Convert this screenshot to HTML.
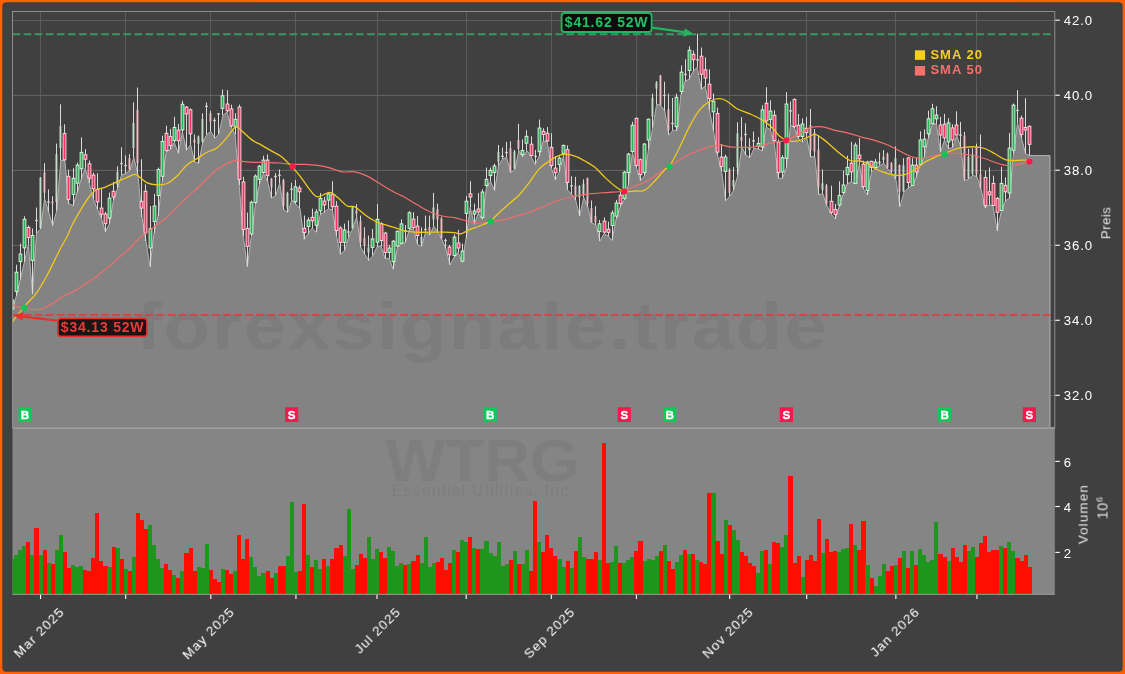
<!DOCTYPE html>
<html><head><meta charset="utf-8"><title>WTRG Chart</title>
<style>html,body{margin:0;padding:0;background:#404040;}body{width:1125px;height:674px;overflow:hidden;font-family:"Liberation Sans", sans-serif;}</style>
</head><body>
<svg width="1125" height="674" viewBox="0 0 1125 674" style="display:block;font-family:&quot;Liberation Sans&quot;,sans-serif">
<defs>
<clipPath id="cp"><rect x="12.5" y="11.5" width="1042.3" height="416.1"/></clipPath>
<clipPath id="cv"><rect x="12.5" y="428.6" width="1042.3" height="165.69999999999993"/></clipPath>
<filter id="f0" x="-20%" y="-20%" width="140%" height="140%"><feOffset dx="0" dy="0"/></filter>
</defs>
<rect x="0" y="0" width="1125" height="674" fill="#ff6006"/>
<rect x="2.3" y="2.3" width="1120.4" height="669.4" rx="4" ry="4" fill="#404040"/>
<g stroke="#5b5b5b" stroke-width="1" shape-rendering="crispEdges">
<line x1="12.5" x2="1054.8" y1="395.5" y2="395.5"/>
<line x1="12.5" x2="1054.8" y1="320.5" y2="320.5"/>
<line x1="12.5" x2="1054.8" y1="245.5" y2="245.5"/>
<line x1="12.5" x2="1054.8" y1="170.5" y2="170.5"/>
<line x1="12.5" x2="1054.8" y1="95.5" y2="95.5"/>
<line x1="12.5" x2="1054.8" y1="20.5" y2="20.5"/>
<line x1="40.5" x2="40.5" y1="11.5" y2="427.6"/>
<line x1="125.5" x2="125.5" y1="11.5" y2="427.6"/>
<line x1="210.5" x2="210.5" y1="11.5" y2="427.6"/>
<line x1="295.5" x2="295.5" y1="11.5" y2="427.6"/>
<line x1="377.5" x2="377.5" y1="11.5" y2="427.6"/>
<line x1="466.5" x2="466.5" y1="11.5" y2="427.6"/>
<line x1="551.5" x2="551.5" y1="11.5" y2="427.6"/>
<line x1="636.5" x2="636.5" y1="11.5" y2="427.6"/>
<line x1="729.5" x2="729.5" y1="11.5" y2="427.6"/>
<line x1="806.5" x2="806.5" y1="11.5" y2="427.6"/>
<line x1="895.5" x2="895.5" y1="11.5" y2="427.6"/>
<line x1="976.5" x2="976.5" y1="11.5" y2="427.6"/>
</g>
<g clip-path="url(#cp)">
<polygon points="12.5,311.0 12.2,311.0 16.3,296.0 20.3,279.5 24.4,262.0 28.4,244.8 32.5,294.0 36.5,233.0 40.6,229.0 44.6,198.5 48.7,212.0 52.7,225.6 56.8,210.6 60.8,160.4 64.9,160.7 68.9,203.7 73.0,205.6 77.1,192.5 81.1,179.4 85.2,168.2 89.2,183.2 93.3,198.8 97.3,209.4 101.4,218.1 105.4,231.8 109.5,223.7 113.5,200.0 117.6,188.2 121.6,175.1 125.7,173.4 129.8,170.7 133.8,157.4 137.9,174.4 141.9,217.0 146.0,241.0 150.0,266.7 154.1,233.0 158.1,216.0 162.2,181.3 166.2,151.5 170.3,149.5 174.3,142.6 178.4,153.2 182.4,132.0 186.5,150.1 190.6,144.5 194.6,161.9 198.7,163.2 202.7,142.6 206.8,134.5 210.8,131.4 214.9,138.2 218.9,133.9 223.0,115.2 227.0,112.1 231.1,127.0 235.1,134.5 239.2,185.0 243.2,236.0 247.3,266.7 251.4,236.2 255.4,204.4 259.5,184.4 263.5,173.4 267.6,181.3 271.6,198.1 275.7,195.6 279.7,183.2 283.8,209.7 287.8,212.3 291.9,199.9 295.9,204.2 300.0,208.6 304.1,239.3 308.1,233.7 312.2,228.0 316.2,232.2 320.3,214.4 324.3,212.3 328.4,208.7 332.4,210.0 336.5,236.2 340.5,254.3 344.6,250.5 348.6,237.4 352.7,228.7 356.7,216.8 360.8,247.4 364.9,254.3 368.9,260.5 373.0,255.5 377.0,246.8 381.1,246.1 385.1,258.6 389.2,258.6 393.2,269.2 397.3,247.4 401.3,243.7 405.4,242.4 409.4,229.5 413.5,229.2 417.5,244.3 421.6,246.1 425.7,231.8 429.7,234.9 433.8,226.2 437.8,231.8 441.9,239.3 445.9,248.6 450.0,264.8 454.0,257.3 458.1,252.3 462.1,262.1 466.2,238.0 470.2,207.5 474.3,224.3 478.4,213.1 482.4,219.3 486.5,186.8 490.5,181.2 494.6,190.6 498.6,165.6 502.7,158.8 506.7,157.5 510.8,172.5 514.8,169.4 518.9,150.7 522.9,156.9 527.0,150.7 531.0,156.3 535.1,164.4 539.2,156.3 543.2,140.7 547.3,141.9 551.3,168.1 555.4,180.0 559.4,171.9 563.5,156.0 567.5,189.9 571.6,194.3 575.6,199.9 579.7,216.1 583.7,197.4 587.8,206.8 591.9,223.0 595.9,224.8 600.0,241.0 604.0,233.6 608.1,236.0 612.1,240.4 616.2,218.6 620.2,206.8 624.3,199.9 628.3,184.9 632.4,152.8 636.4,167.5 640.5,180.6 644.5,175.6 648.6,149.1 652.7,127.9 656.7,104.2 660.8,105.5 664.8,111.1 668.9,134.8 672.9,130.4 677.0,130.4 681.0,94.0 685.1,81.1 689.1,79.3 693.2,71.1 697.2,67.4 701.3,89.2 705.3,86.1 709.4,110.0 713.5,131.0 717.5,155.2 721.6,171.4 725.6,200.7 729.7,196.3 733.7,190.1 737.8,175.1 741.8,147.1 745.9,155.2 749.9,157.7 754.0,148.3 758.0,149.0 762.1,150.8 766.2,127.1 770.2,129.6 774.3,143.0 778.3,178.3 782.4,178.3 786.4,167.7 790.5,124.6 794.5,128.3 798.6,138.9 802.6,142.1 806.7,138.0 810.7,157.1 814.8,156.4 818.8,194.5 822.9,193.9 827.0,205.7 831.0,213.8 835.1,219.0 839.1,206.8 843.2,194.4 847.2,183.8 851.3,181.9 855.3,183.8 859.4,163.8 863.4,188.8 867.5,195.0 871.5,171.9 875.6,168.8 879.6,165.7 883.7,163.2 887.8,168.8 891.8,173.2 895.9,179.4 899.9,206.8 904.0,191.9 908.0,188.1 912.1,185.6 916.1,177.5 920.2,165.3 924.2,156.9 928.3,138.1 932.3,124.3 936.4,123.8 940.5,152.2 944.5,140.0 948.6,148.7 952.6,147.5 956.7,135.4 960.7,146.9 964.8,180.7 968.8,178.8 972.9,175.0 976.9,176.8 981.0,188.7 985.0,208.0 989.1,204.9 993.1,206.1 997.2,231.0 1001.3,211.1 1005.3,201.1 1009.4,198.0 1013.4,154.3 1017.5,123.1 1021.5,138.1 1025.6,153.7 1029.6,155.6 1050.0,155.6 1050,427.6 12.5,427.6" fill="#838383"/>
<polyline points="12.5,311.0 12.2,311.0 16.3,296.0 20.3,279.5 24.4,262.0 28.4,244.8 32.5,294.0 36.5,233.0 40.6,229.0 44.6,198.5 48.7,212.0 52.7,225.6 56.8,210.6 60.8,160.4 64.9,160.7 68.9,203.7 73.0,205.6 77.1,192.5 81.1,179.4 85.2,168.2 89.2,183.2 93.3,198.8 97.3,209.4 101.4,218.1 105.4,231.8 109.5,223.7 113.5,200.0 117.6,188.2 121.6,175.1 125.7,173.4 129.8,170.7 133.8,157.4 137.9,174.4 141.9,217.0 146.0,241.0 150.0,266.7 154.1,233.0 158.1,216.0 162.2,181.3 166.2,151.5 170.3,149.5 174.3,142.6 178.4,153.2 182.4,132.0 186.5,150.1 190.6,144.5 194.6,161.9 198.7,163.2 202.7,142.6 206.8,134.5 210.8,131.4 214.9,138.2 218.9,133.9 223.0,115.2 227.0,112.1 231.1,127.0 235.1,134.5 239.2,185.0 243.2,236.0 247.3,266.7 251.4,236.2 255.4,204.4 259.5,184.4 263.5,173.4 267.6,181.3 271.6,198.1 275.7,195.6 279.7,183.2 283.8,209.7 287.8,212.3 291.9,199.9 295.9,204.2 300.0,208.6 304.1,239.3 308.1,233.7 312.2,228.0 316.2,232.2 320.3,214.4 324.3,212.3 328.4,208.7 332.4,210.0 336.5,236.2 340.5,254.3 344.6,250.5 348.6,237.4 352.7,228.7 356.7,216.8 360.8,247.4 364.9,254.3 368.9,260.5 373.0,255.5 377.0,246.8 381.1,246.1 385.1,258.6 389.2,258.6 393.2,269.2 397.3,247.4 401.3,243.7 405.4,242.4 409.4,229.5 413.5,229.2 417.5,244.3 421.6,246.1 425.7,231.8 429.7,234.9 433.8,226.2 437.8,231.8 441.9,239.3 445.9,248.6 450.0,264.8 454.0,257.3 458.1,252.3 462.1,262.1 466.2,238.0 470.2,207.5 474.3,224.3 478.4,213.1 482.4,219.3 486.5,186.8 490.5,181.2 494.6,190.6 498.6,165.6 502.7,158.8 506.7,157.5 510.8,172.5 514.8,169.4 518.9,150.7 522.9,156.9 527.0,150.7 531.0,156.3 535.1,164.4 539.2,156.3 543.2,140.7 547.3,141.9 551.3,168.1 555.4,180.0 559.4,171.9 563.5,156.0 567.5,189.9 571.6,194.3 575.6,199.9 579.7,216.1 583.7,197.4 587.8,206.8 591.9,223.0 595.9,224.8 600.0,241.0 604.0,233.6 608.1,236.0 612.1,240.4 616.2,218.6 620.2,206.8 624.3,199.9 628.3,184.9 632.4,152.8 636.4,167.5 640.5,180.6 644.5,175.6 648.6,149.1 652.7,127.9 656.7,104.2 660.8,105.5 664.8,111.1 668.9,134.8 672.9,130.4 677.0,130.4 681.0,94.0 685.1,81.1 689.1,79.3 693.2,71.1 697.2,67.4 701.3,89.2 705.3,86.1 709.4,110.0 713.5,131.0 717.5,155.2 721.6,171.4 725.6,200.7 729.7,196.3 733.7,190.1 737.8,175.1 741.8,147.1 745.9,155.2 749.9,157.7 754.0,148.3 758.0,149.0 762.1,150.8 766.2,127.1 770.2,129.6 774.3,143.0 778.3,178.3 782.4,178.3 786.4,167.7 790.5,124.6 794.5,128.3 798.6,138.9 802.6,142.1 806.7,138.0 810.7,157.1 814.8,156.4 818.8,194.5 822.9,193.9 827.0,205.7 831.0,213.8 835.1,219.0 839.1,206.8 843.2,194.4 847.2,183.8 851.3,181.9 855.3,183.8 859.4,163.8 863.4,188.8 867.5,195.0 871.5,171.9 875.6,168.8 879.6,165.7 883.7,163.2 887.8,168.8 891.8,173.2 895.9,179.4 899.9,206.8 904.0,191.9 908.0,188.1 912.1,185.6 916.1,177.5 920.2,165.3 924.2,156.9 928.3,138.1 932.3,124.3 936.4,123.8 940.5,152.2 944.5,140.0 948.6,148.7 952.6,147.5 956.7,135.4 960.7,146.9 964.8,180.7 968.8,178.8 972.9,175.0 976.9,176.8 981.0,188.7 985.0,208.0 989.1,204.9 993.1,206.1 997.2,231.0 1001.3,211.1 1005.3,201.1 1009.4,198.0 1013.4,154.3 1017.5,123.1 1021.5,138.1 1025.6,153.7 1029.6,155.6 1050.0,155.6 1050,427.6" fill="none" stroke="#b4b4b4" stroke-width="1" stroke-linejoin="round"/>
<g stroke="#8e8e8e" stroke-width="1" opacity="0.18">
<line x1="12.5" x2="1050" y1="395.30" y2="395.30"/>
<line x1="12.5" x2="1050" y1="320.28" y2="320.28"/>
<line x1="12.5" x2="1050" y1="245.26" y2="245.26"/>
<line x1="12.5" x2="1050" y1="170.24" y2="170.24"/>
<line x1="12.5" x2="1050" y1="95.22" y2="95.22"/>
</g>
</g>
<text filter="url(#f0)" transform="translate(482.5,349.4) scale(1.13,1)" x="0" y="0" text-anchor="middle" font-size="67" font-weight="bold" letter-spacing="2" fill="#777777" fill-opacity="0.62">forexsignale.trade</text>
<g clip-path="url(#cp)">
<g stroke="#dadada" stroke-width="1"><line x1="12.50" x2="12.50" y1="293.0" y2="311.0"/><line x1="16.50" x2="16.50" y1="264.7" y2="296.0"/><line x1="20.50" x2="20.50" y1="243.5" y2="279.5"/><line x1="24.50" x2="24.50" y1="216.2" y2="262.0"/><line x1="28.50" x2="28.50" y1="225.5" y2="244.8"/><line x1="32.50" x2="32.50" y1="228.6" y2="294.0"/><line x1="36.50" x2="36.50" y1="207.5" y2="233.0"/><line x1="40.50" x2="40.50" y1="177.0" y2="229.0"/><line x1="44.50" x2="44.50" y1="163.2" y2="198.5"/><line x1="48.50" x2="48.50" y1="189.4" y2="212.0"/><line x1="52.50" x2="52.50" y1="196.3" y2="225.6"/><line x1="56.50" x2="56.50" y1="143.6" y2="210.6"/><line x1="60.50" x2="60.50" y1="104.3" y2="160.4"/><line x1="64.50" x2="64.50" y1="124.3" y2="160.7"/><line x1="68.50" x2="68.50" y1="169.5" y2="203.7"/><line x1="73.50" x2="73.50" y1="168.2" y2="205.6"/><line x1="77.50" x2="77.50" y1="162.6" y2="192.5"/><line x1="81.50" x2="81.50" y1="137.4" y2="179.4"/><line x1="85.50" x2="85.50" y1="149.2" y2="168.2"/><line x1="89.50" x2="89.50" y1="160.4" y2="183.2"/><line x1="93.50" x2="93.50" y1="172.6" y2="198.8"/><line x1="97.50" x2="97.50" y1="173.2" y2="209.4"/><line x1="101.50" x2="101.50" y1="188.8" y2="218.1"/><line x1="105.50" x2="105.50" y1="211.9" y2="231.8"/><line x1="109.50" x2="109.50" y1="192.5" y2="223.7"/><line x1="113.50" x2="113.50" y1="181.9" y2="200.0"/><line x1="117.50" x2="117.50" y1="166.3" y2="188.2"/><line x1="121.50" x2="121.50" y1="147.3" y2="175.1"/><line x1="125.50" x2="125.50" y1="155.4" y2="173.4"/><line x1="129.50" x2="129.50" y1="154.2" y2="170.7"/><line x1="133.50" x2="133.50" y1="102.4" y2="157.4"/><line x1="137.50" x2="137.50" y1="87.5" y2="174.4"/><line x1="141.50" x2="141.50" y1="159.2" y2="217.0"/><line x1="145.50" x2="145.50" y1="184.4" y2="241.0"/><line x1="150.50" x2="150.50" y1="206.0" y2="266.7"/><line x1="154.50" x2="154.50" y1="193.8" y2="233.0"/><line x1="158.50" x2="158.50" y1="167.6" y2="216.0"/><line x1="162.50" x2="162.50" y1="135.7" y2="181.3"/><line x1="166.50" x2="166.50" y1="125.8" y2="151.5"/><line x1="170.50" x2="170.50" y1="128.9" y2="149.5"/><line x1="174.50" x2="174.50" y1="116.7" y2="142.6"/><line x1="178.50" x2="178.50" y1="123.9" y2="153.2"/><line x1="182.50" x2="182.50" y1="100.8" y2="132.0"/><line x1="186.50" x2="186.50" y1="106.0" y2="150.1"/><line x1="190.50" x2="190.50" y1="108.3" y2="144.5"/><line x1="194.50" x2="194.50" y1="134.5" y2="161.9"/><line x1="198.50" x2="198.50" y1="135.5" y2="163.2"/><line x1="202.50" x2="202.50" y1="113.3" y2="142.6"/><line x1="206.50" x2="206.50" y1="102.5" y2="134.5"/><line x1="210.50" x2="210.50" y1="110.8" y2="131.4"/><line x1="214.50" x2="214.50" y1="117.7" y2="138.2"/><line x1="218.50" x2="218.50" y1="113.0" y2="133.9"/><line x1="222.50" x2="222.50" y1="89.6" y2="115.2"/><line x1="227.50" x2="227.50" y1="90.2" y2="112.1"/><line x1="231.50" x2="231.50" y1="104.6" y2="127.0"/><line x1="235.50" x2="235.50" y1="113.3" y2="134.5"/><line x1="239.50" x2="239.50" y1="104.6" y2="185.0"/><line x1="243.50" x2="243.50" y1="176.9" y2="236.0"/><line x1="247.50" x2="247.50" y1="212.5" y2="266.7"/><line x1="251.50" x2="251.50" y1="200.6" y2="236.2"/><line x1="255.50" x2="255.50" y1="174.4" y2="204.4"/><line x1="259.50" x2="259.50" y1="165.0" y2="184.4"/><line x1="263.50" x2="263.50" y1="155.7" y2="173.4"/><line x1="267.50" x2="267.50" y1="154.5" y2="181.3"/><line x1="271.50" x2="271.50" y1="178.0" y2="198.1"/><line x1="275.50" x2="275.50" y1="173.2" y2="195.6"/><line x1="279.50" x2="279.50" y1="169.5" y2="183.2"/><line x1="283.50" x2="283.50" y1="178.8" y2="209.7"/><line x1="287.50" x2="287.50" y1="191.8" y2="212.3"/><line x1="291.50" x2="291.50" y1="182.7" y2="199.9"/><line x1="295.50" x2="295.50" y1="179.9" y2="204.2"/><line x1="299.50" x2="299.50" y1="185.5" y2="208.6"/><line x1="304.50" x2="304.50" y1="215.5" y2="239.3"/><line x1="308.50" x2="308.50" y1="217.3" y2="233.7"/><line x1="312.50" x2="312.50" y1="208.6" y2="228.0"/><line x1="316.50" x2="316.50" y1="209.2" y2="232.2"/><line x1="320.50" x2="320.50" y1="193.0" y2="214.4"/><line x1="324.50" x2="324.50" y1="196.8" y2="212.3"/><line x1="328.50" x2="328.50" y1="192.4" y2="208.7"/><line x1="332.50" x2="332.50" y1="181.2" y2="210.0"/><line x1="336.50" x2="336.50" y1="201.1" y2="236.2"/><line x1="340.50" x2="340.50" y1="226.2" y2="254.3"/><line x1="344.50" x2="344.50" y1="223.6" y2="250.5"/><line x1="348.50" x2="348.50" y1="220.5" y2="237.4"/><line x1="352.50" x2="352.50" y1="206.0" y2="228.7"/><line x1="356.50" x2="356.50" y1="204.2" y2="216.8"/><line x1="360.50" x2="360.50" y1="215.5" y2="247.4"/><line x1="364.50" x2="364.50" y1="227.3" y2="254.3"/><line x1="368.50" x2="368.50" y1="235.5" y2="260.5"/><line x1="372.50" x2="372.50" y1="229.0" y2="255.5"/><line x1="377.50" x2="377.50" y1="204.2" y2="246.8"/><line x1="381.50" x2="381.50" y1="222.3" y2="246.1"/><line x1="385.50" x2="385.50" y1="231.8" y2="258.6"/><line x1="389.50" x2="389.50" y1="244.9" y2="258.6"/><line x1="393.50" x2="393.50" y1="240.0" y2="269.2"/><line x1="397.50" x2="397.50" y1="230.5" y2="247.4"/><line x1="401.50" x2="401.50" y1="219.3" y2="243.7"/><line x1="405.50" x2="405.50" y1="225.0" y2="242.4"/><line x1="409.50" x2="409.50" y1="211.1" y2="229.5"/><line x1="413.50" x2="413.50" y1="212.3" y2="229.2"/><line x1="417.50" x2="417.50" y1="216.1" y2="244.3"/><line x1="421.50" x2="421.50" y1="227.3" y2="246.1"/><line x1="425.50" x2="425.50" y1="215.6" y2="231.8"/><line x1="429.50" x2="429.50" y1="215.6" y2="234.9"/><line x1="433.50" x2="433.50" y1="193.0" y2="226.2"/><line x1="437.50" x2="437.50" y1="203.7" y2="231.8"/><line x1="441.50" x2="441.50" y1="216.8" y2="239.3"/><line x1="445.50" x2="445.50" y1="238.6" y2="248.6"/><line x1="449.50" x2="449.50" y1="244.9" y2="264.8"/><line x1="454.50" x2="454.50" y1="234.3" y2="257.3"/><line x1="458.50" x2="458.50" y1="229.9" y2="252.3"/><line x1="462.50" x2="462.50" y1="243.6" y2="262.1"/><line x1="466.50" x2="466.50" y1="196.2" y2="238.0"/><line x1="470.50" x2="470.50" y1="181.2" y2="207.5"/><line x1="474.50" x2="474.50" y1="203.7" y2="224.3"/><line x1="478.50" x2="478.50" y1="193.0" y2="213.1"/><line x1="482.50" x2="482.50" y1="189.3" y2="219.3"/><line x1="486.50" x2="486.50" y1="167.5" y2="186.8"/><line x1="490.50" x2="490.50" y1="167.5" y2="181.2"/><line x1="494.50" x2="494.50" y1="163.7" y2="190.6"/><line x1="498.50" x2="498.50" y1="145.0" y2="165.6"/><line x1="502.50" x2="502.50" y1="147.5" y2="158.8"/><line x1="506.50" x2="506.50" y1="141.9" y2="157.5"/><line x1="510.50" x2="510.50" y1="141.3" y2="172.5"/><line x1="514.50" x2="514.50" y1="150.0" y2="169.4"/><line x1="518.50" x2="518.50" y1="123.8" y2="150.7"/><line x1="522.50" x2="522.50" y1="139.4" y2="156.9"/><line x1="526.50" x2="526.50" y1="130.1" y2="150.7"/><line x1="531.50" x2="531.50" y1="136.3" y2="156.3"/><line x1="535.50" x2="535.50" y1="150.0" y2="164.4"/><line x1="539.50" x2="539.50" y1="119.5" y2="156.3"/><line x1="543.50" x2="543.50" y1="128.2" y2="140.7"/><line x1="547.50" x2="547.50" y1="127.0" y2="141.9"/><line x1="551.50" x2="551.50" y1="133.2" y2="168.1"/><line x1="555.50" x2="555.50" y1="156.3" y2="180.0"/><line x1="559.50" x2="559.50" y1="156.3" y2="171.9"/><line x1="563.50" x2="563.50" y1="144.5" y2="156.0"/><line x1="567.50" x2="567.50" y1="145.4" y2="189.9"/><line x1="571.50" x2="571.50" y1="176.2" y2="194.3"/><line x1="575.50" x2="575.50" y1="176.8" y2="199.9"/><line x1="579.50" x2="579.50" y1="185.0" y2="216.1"/><line x1="583.50" x2="583.50" y1="179.3" y2="197.4"/><line x1="587.50" x2="587.50" y1="177.5" y2="206.8"/><line x1="591.50" x2="591.50" y1="200.5" y2="223.0"/><line x1="595.50" x2="595.50" y1="206.1" y2="224.8"/><line x1="599.50" x2="599.50" y1="219.9" y2="241.0"/><line x1="604.50" x2="604.50" y1="217.4" y2="233.6"/><line x1="608.50" x2="608.50" y1="221.7" y2="236.0"/><line x1="612.50" x2="612.50" y1="210.5" y2="240.4"/><line x1="616.50" x2="616.50" y1="199.9" y2="218.6"/><line x1="620.50" x2="620.50" y1="191.8" y2="206.8"/><line x1="624.50" x2="624.50" y1="171.0" y2="199.9"/><line x1="628.50" x2="628.50" y1="152.8" y2="184.9"/><line x1="632.50" x2="632.50" y1="121.7" y2="152.8"/><line x1="636.50" x2="636.50" y1="117.5" y2="167.5"/><line x1="640.50" x2="640.50" y1="158.5" y2="180.6"/><line x1="644.50" x2="644.50" y1="143.0" y2="175.6"/><line x1="648.50" x2="648.50" y1="118.5" y2="149.1"/><line x1="652.50" x2="652.50" y1="93.6" y2="127.9"/><line x1="656.50" x2="656.50" y1="81.1" y2="104.2"/><line x1="660.50" x2="660.50" y1="74.9" y2="105.5"/><line x1="664.50" x2="664.50" y1="81.7" y2="111.1"/><line x1="668.50" x2="668.50" y1="93.6" y2="134.8"/><line x1="672.50" x2="672.50" y1="98.0" y2="130.4"/><line x1="676.50" x2="676.50" y1="93.6" y2="130.4"/><line x1="681.50" x2="681.50" y1="65.5" y2="94.0"/><line x1="685.50" x2="685.50" y1="59.3" y2="81.1"/><line x1="689.50" x2="689.50" y1="46.2" y2="79.3"/><line x1="693.50" x2="693.50" y1="50.6" y2="71.1"/><line x1="697.50" x2="697.50" y1="33.7" y2="67.4"/><line x1="701.50" x2="701.50" y1="47.5" y2="89.2"/><line x1="705.50" x2="705.50" y1="57.4" y2="86.1"/><line x1="709.50" x2="709.50" y1="69.3" y2="110.0"/><line x1="713.50" x2="713.50" y1="93.5" y2="131.0"/><line x1="717.50" x2="717.50" y1="107.5" y2="155.2"/><line x1="721.50" x2="721.50" y1="143.9" y2="171.4"/><line x1="725.50" x2="725.50" y1="154.6" y2="200.7"/><line x1="729.50" x2="729.50" y1="168.0" y2="196.3"/><line x1="733.50" x2="733.50" y1="167.0" y2="190.1"/><line x1="737.50" x2="737.50" y1="122.1" y2="175.1"/><line x1="741.50" x2="741.50" y1="117.1" y2="147.1"/><line x1="745.50" x2="745.50" y1="123.4" y2="155.2"/><line x1="749.50" x2="749.50" y1="138.3" y2="157.7"/><line x1="753.50" x2="753.50" y1="131.5" y2="148.3"/><line x1="758.50" x2="758.50" y1="137.1" y2="149.0"/><line x1="762.50" x2="762.50" y1="105.3" y2="150.8"/><line x1="766.50" x2="766.50" y1="87.2" y2="127.1"/><line x1="770.50" x2="770.50" y1="100.3" y2="129.6"/><line x1="774.50" x2="774.50" y1="110.3" y2="143.0"/><line x1="778.50" x2="778.50" y1="139.5" y2="178.3"/><line x1="782.50" x2="782.50" y1="155.2" y2="178.3"/><line x1="786.50" x2="786.50" y1="92.2" y2="167.7"/><line x1="790.50" x2="790.50" y1="101.5" y2="124.6"/><line x1="794.50" x2="794.50" y1="98.4" y2="128.3"/><line x1="798.50" x2="798.50" y1="114.0" y2="138.9"/><line x1="802.50" x2="802.50" y1="118.4" y2="142.1"/><line x1="806.50" x2="806.50" y1="117.1" y2="138.0"/><line x1="810.50" x2="810.50" y1="109.0" y2="157.1"/><line x1="814.50" x2="814.50" y1="129.0" y2="156.4"/><line x1="818.50" x2="818.50" y1="135.2" y2="194.5"/><line x1="822.50" x2="822.50" y1="169.5" y2="193.9"/><line x1="826.50" x2="826.50" y1="183.9" y2="205.7"/><line x1="831.50" x2="831.50" y1="185.7" y2="213.8"/><line x1="835.50" x2="835.50" y1="203.8" y2="219.0"/><line x1="839.50" x2="839.50" y1="181.3" y2="206.8"/><line x1="843.50" x2="843.50" y1="170.7" y2="194.4"/><line x1="847.50" x2="847.50" y1="155.7" y2="183.8"/><line x1="851.50" x2="851.50" y1="141.9" y2="181.9"/><line x1="855.50" x2="855.50" y1="142.5" y2="183.8"/><line x1="859.50" x2="859.50" y1="138.1" y2="163.8"/><line x1="863.50" x2="863.50" y1="160.7" y2="188.8"/><line x1="867.50" x2="867.50" y1="160.7" y2="195.0"/><line x1="871.50" x2="871.50" y1="160.7" y2="171.9"/><line x1="875.50" x2="875.50" y1="158.8" y2="168.8"/><line x1="879.50" x2="879.50" y1="152.6" y2="165.7"/><line x1="883.50" x2="883.50" y1="150.1" y2="163.2"/><line x1="887.50" x2="887.50" y1="152.6" y2="168.8"/><line x1="891.50" x2="891.50" y1="162.0" y2="173.2"/><line x1="895.50" x2="895.50" y1="146.4" y2="179.4"/><line x1="899.50" x2="899.50" y1="164.4" y2="206.8"/><line x1="903.50" x2="903.50" y1="158.2" y2="191.9"/><line x1="908.50" x2="908.50" y1="157.0" y2="188.1"/><line x1="912.50" x2="912.50" y1="158.2" y2="185.6"/><line x1="916.50" x2="916.50" y1="157.6" y2="177.5"/><line x1="920.50" x2="920.50" y1="131.3" y2="165.3"/><line x1="924.50" x2="924.50" y1="129.4" y2="156.9"/><line x1="928.50" x2="928.50" y1="110.7" y2="138.1"/><line x1="932.50" x2="932.50" y1="103.8" y2="124.3"/><line x1="936.50" x2="936.50" y1="106.3" y2="123.8"/><line x1="940.50" x2="940.50" y1="116.9" y2="152.2"/><line x1="944.50" x2="944.50" y1="113.8" y2="140.0"/><line x1="948.50" x2="948.50" y1="118.2" y2="148.7"/><line x1="952.50" x2="952.50" y1="124.4" y2="147.5"/><line x1="956.50" x2="956.50" y1="111.3" y2="135.4"/><line x1="960.50" x2="960.50" y1="121.9" y2="146.9"/><line x1="964.50" x2="964.50" y1="131.9" y2="180.7"/><line x1="968.50" x2="968.50" y1="148.7" y2="178.8"/><line x1="972.50" x2="972.50" y1="148.1" y2="175.0"/><line x1="976.50" x2="976.50" y1="143.7" y2="176.8"/><line x1="980.50" x2="980.50" y1="134.4" y2="188.7"/><line x1="985.50" x2="985.50" y1="170.6" y2="208.0"/><line x1="989.50" x2="989.50" y1="167.5" y2="204.9"/><line x1="993.50" x2="993.50" y1="175.6" y2="206.1"/><line x1="997.50" x2="997.50" y1="197.0" y2="231.0"/><line x1="1001.50" x2="1001.50" y1="166.8" y2="211.1"/><line x1="1005.50" x2="1005.50" y1="177.4" y2="201.1"/><line x1="1009.50" x2="1009.50" y1="133.1" y2="198.0"/><line x1="1013.50" x2="1013.50" y1="103.5" y2="154.3"/><line x1="1017.50" x2="1017.50" y1="90.1" y2="123.1"/><line x1="1021.50" x2="1021.50" y1="115.7" y2="138.1"/><line x1="1025.50" x2="1025.50" y1="98.2" y2="153.7"/><line x1="1029.50" x2="1029.50" y1="125.5" y2="155.6"/></g>
<rect x="11.10" y="300.0" width="2.8" height="9.0" fill="#2bb257" stroke="#dff7e2" stroke-width="0.9"/><rect x="15.10" y="272.2" width="2.8" height="19.3" fill="#2bb257" stroke="#dff7e2" stroke-width="0.9"/><rect x="19.10" y="254.0" width="2.8" height="7.6" fill="#2bb257" stroke="#dff7e2" stroke-width="0.9"/><rect x="23.10" y="219.3" width="2.8" height="28.6" fill="#2bb257" stroke="#dff7e2" stroke-width="0.9"/><rect x="27.10" y="227.4" width="2.8" height="10.0" fill="#fa2f62" stroke="#ffe0e5" stroke-width="0.9"/><rect x="31.10" y="235.5" width="2.8" height="24.9" fill="#2bb257" stroke="#dff7e2" stroke-width="0.9"/><rect x="35.20" y="219.8" width="2.6" height="1.4" fill="#d6d6d6"/><rect x="39.50" y="177.6" width="1.9" height="50.4" fill="#c2dcc8"/><rect x="43.50" y="172.6" width="1.9" height="19.9" fill="#efbcc6"/><rect x="47.20" y="201.3" width="2.6" height="1.4" fill="#d6d6d6"/><rect x="51.50" y="201.5" width="1.9" height="2.0" fill="#efbcc6"/><rect x="55.50" y="154.2" width="1.9" height="47.7" fill="#c2dcc8"/><rect x="59.50" y="126.1" width="1.9" height="21.9" fill="#c2dcc8"/><rect x="63.10" y="133.6" width="2.8" height="26.2" fill="#fa2f62" stroke="#ffe0e5" stroke-width="0.9"/><rect x="67.10" y="176.3" width="2.8" height="23.1" fill="#fa2f62" stroke="#ffe0e5" stroke-width="0.9"/><rect x="72.10" y="178.2" width="2.8" height="16.2" fill="#2bb257" stroke="#dff7e2" stroke-width="0.9"/><rect x="76.10" y="165.1" width="2.8" height="18.1" fill="#2bb257" stroke="#dff7e2" stroke-width="0.9"/><rect x="80.10" y="152.3" width="2.8" height="16.5" fill="#2bb257" stroke="#dff7e2" stroke-width="0.9"/><rect x="84.10" y="154.8" width="2.8" height="4.4" fill="#fa2f62" stroke="#ffe0e5" stroke-width="0.9"/><rect x="88.10" y="163.8" width="2.8" height="14.4" fill="#fa2f62" stroke="#ffe0e5" stroke-width="0.9"/><rect x="92.10" y="175.1" width="2.8" height="13.7" fill="#fa2f62" stroke="#ffe0e5" stroke-width="0.9"/><rect x="96.10" y="189.4" width="2.8" height="12.5" fill="#fa2f62" stroke="#ffe0e5" stroke-width="0.9"/><rect x="100.10" y="208.1" width="2.8" height="6.2" fill="#fa2f62" stroke="#ffe0e5" stroke-width="0.9"/><rect x="104.10" y="214.0" width="2.8" height="9.7" fill="#fa2f62" stroke="#ffe0e5" stroke-width="0.9"/><rect x="108.10" y="198.1" width="2.8" height="20.0" fill="#2bb257" stroke="#dff7e2" stroke-width="0.9"/><rect x="112.10" y="191.3" width="2.8" height="5.6" fill="#fa2f62" stroke="#ffe0e5" stroke-width="0.9"/><rect x="116.50" y="172.0" width="1.9" height="12.4" fill="#c2dcc8"/><rect x="120.20" y="162.8" width="2.6" height="1.4" fill="#d6d6d6"/><rect x="124.20" y="164.8" width="2.6" height="1.4" fill="#d6d6d6"/><rect x="128.50" y="158.2" width="1.9" height="11.3" fill="#efbcc6"/><rect x="132.50" y="123.0" width="1.9" height="25.0" fill="#c2dcc8"/><rect x="136.50" y="109.9" width="1.9" height="53.3" fill="#efbcc6"/><rect x="140.10" y="201.3" width="2.8" height="6.8" fill="#fa2f62" stroke="#ffe0e5" stroke-width="0.9"/><rect x="144.10" y="191.3" width="2.8" height="41.7" fill="#fa2f62" stroke="#ffe0e5" stroke-width="0.9"/><rect x="149.10" y="228.7" width="2.8" height="19.3" fill="#2bb257" stroke="#dff7e2" stroke-width="0.9"/><rect x="153.10" y="206.0" width="2.8" height="15.5" fill="#2bb257" stroke="#dff7e2" stroke-width="0.9"/><rect x="157.10" y="169.5" width="2.8" height="26.1" fill="#2bb257" stroke="#dff7e2" stroke-width="0.9"/><rect x="161.10" y="141.4" width="2.8" height="34.9" fill="#2bb257" stroke="#dff7e2" stroke-width="0.9"/><rect x="165.10" y="133.3" width="2.8" height="17.4" fill="#fa2f62" stroke="#ffe0e5" stroke-width="0.9"/><rect x="169.10" y="136.4" width="2.8" height="9.3" fill="#fa2f62" stroke="#ffe0e5" stroke-width="0.9"/><rect x="173.10" y="127.4" width="2.8" height="13.3" fill="#2bb257" stroke="#dff7e2" stroke-width="0.9"/><rect x="177.10" y="130.1" width="2.8" height="10.6" fill="#fa2f62" stroke="#ffe0e5" stroke-width="0.9"/><rect x="181.10" y="104.2" width="2.8" height="25.7" fill="#2bb257" stroke="#dff7e2" stroke-width="0.9"/><rect x="185.10" y="107.1" width="2.8" height="6.8" fill="#fa2f62" stroke="#ffe0e5" stroke-width="0.9"/><rect x="189.10" y="109.8" width="2.8" height="24.1" fill="#fa2f62" stroke="#ffe0e5" stroke-width="0.9"/><rect x="193.50" y="139.5" width="1.9" height="3.1" fill="#efbcc6"/><rect x="197.50" y="136.4" width="1.9" height="7.5" fill="#c2dcc8"/><rect x="201.50" y="118.9" width="1.9" height="23.1" fill="#c2dcc8"/><rect x="205.20" y="105.6" width="2.6" height="1.4" fill="#d6d6d6"/><rect x="209.50" y="113.3" width="1.9" height="8.1" fill="#efbcc6"/><rect x="213.20" y="119.8" width="2.6" height="1.4" fill="#d6d6d6"/><rect x="217.20" y="113.2" width="2.6" height="1.4" fill="#d6d6d6"/><rect x="221.10" y="95.8" width="2.8" height="12.5" fill="#2bb257" stroke="#dff7e2" stroke-width="0.9"/><rect x="226.10" y="104.0" width="2.8" height="6.8" fill="#fa2f62" stroke="#ffe0e5" stroke-width="0.9"/><rect x="230.10" y="108.9" width="2.8" height="16.9" fill="#fa2f62" stroke="#ffe0e5" stroke-width="0.9"/><rect x="234.10" y="119.3" width="2.8" height="7.7" fill="#2bb257" stroke="#dff7e2" stroke-width="0.9"/><rect x="238.10" y="107.1" width="2.8" height="72.3" fill="#fa2f62" stroke="#ffe0e5" stroke-width="0.9"/><rect x="242.10" y="181.9" width="2.8" height="47.6" fill="#fa2f62" stroke="#ffe0e5" stroke-width="0.9"/><rect x="246.10" y="228.4" width="2.8" height="18.0" fill="#fa2f62" stroke="#ffe0e5" stroke-width="0.9"/><rect x="250.10" y="202.2" width="2.8" height="31.7" fill="#2bb257" stroke="#dff7e2" stroke-width="0.9"/><rect x="254.10" y="176.1" width="2.8" height="26.4" fill="#2bb257" stroke="#dff7e2" stroke-width="0.9"/><rect x="258.10" y="166.1" width="2.8" height="13.3" fill="#2bb257" stroke="#dff7e2" stroke-width="0.9"/><rect x="262.10" y="160.1" width="2.8" height="12.5" fill="#2bb257" stroke="#dff7e2" stroke-width="0.9"/><rect x="266.10" y="160.1" width="2.8" height="15.6" fill="#fa2f62" stroke="#ffe0e5" stroke-width="0.9"/><rect x="270.50" y="178.8" width="1.9" height="8.7" fill="#efbcc6"/><rect x="274.20" y="175.8" width="2.6" height="1.4" fill="#d6d6d6"/><rect x="278.20" y="174.6" width="2.6" height="1.4" fill="#d6d6d6"/><rect x="282.50" y="180.0" width="1.9" height="26.0" fill="#efbcc6"/><rect x="286.50" y="193.0" width="1.9" height="15.6" fill="#c2dcc8"/><rect x="290.20" y="188.6" width="2.6" height="1.4" fill="#d6d6d6"/><rect x="294.10" y="186.8" width="2.8" height="14.9" fill="#2bb257" stroke="#dff7e2" stroke-width="0.9"/><rect x="298.10" y="188.0" width="2.8" height="3.8" fill="#fa2f62" stroke="#ffe0e5" stroke-width="0.9"/><rect x="303.10" y="228.3" width="2.8" height="4.3" fill="#fa2f62" stroke="#ffe0e5" stroke-width="0.9"/><rect x="307.10" y="220.1" width="2.8" height="6.4" fill="#2bb257" stroke="#dff7e2" stroke-width="0.9"/><rect x="311.10" y="217.3" width="2.8" height="3.5" fill="#fa2f62" stroke="#ffe0e5" stroke-width="0.9"/><rect x="315.10" y="212.0" width="2.8" height="13.2" fill="#2bb257" stroke="#dff7e2" stroke-width="0.9"/><rect x="319.10" y="198.4" width="2.8" height="12.4" fill="#2bb257" stroke="#dff7e2" stroke-width="0.9"/><rect x="323.10" y="201.1" width="2.8" height="3.8" fill="#fa2f62" stroke="#ffe0e5" stroke-width="0.9"/><rect x="327.10" y="193.9" width="2.8" height="6.2" fill="#2bb257" stroke="#dff7e2" stroke-width="0.9"/><rect x="331.10" y="194.3" width="2.8" height="12.4" fill="#fa2f62" stroke="#ffe0e5" stroke-width="0.9"/><rect x="335.10" y="206.1" width="2.8" height="24.4" fill="#fa2f62" stroke="#ffe0e5" stroke-width="0.9"/><rect x="339.10" y="228.0" width="2.8" height="14.4" fill="#fa2f62" stroke="#ffe0e5" stroke-width="0.9"/><rect x="343.10" y="230.0" width="2.8" height="12.4" fill="#2bb257" stroke="#dff7e2" stroke-width="0.9"/><rect x="347.20" y="231.3" width="2.6" height="1.4" fill="#d6d6d6"/><rect x="351.50" y="207.0" width="1.9" height="21.5" fill="#c2dcc8"/><rect x="355.50" y="210.6" width="1.9" height="3.1" fill="#efbcc6"/><rect x="359.50" y="221.2" width="1.9" height="20.6" fill="#efbcc6"/><rect x="363.50" y="238.0" width="1.9" height="7.5" fill="#efbcc6"/><rect x="367.50" y="247.4" width="1.9" height="5.0" fill="#c2dcc8"/><rect x="371.10" y="238.9" width="2.8" height="8.5" fill="#2bb257" stroke="#dff7e2" stroke-width="0.9"/><rect x="376.10" y="219.3" width="2.8" height="22.9" fill="#2bb257" stroke="#dff7e2" stroke-width="0.9"/><rect x="380.10" y="223.7" width="2.8" height="16.8" fill="#fa2f62" stroke="#ffe0e5" stroke-width="0.9"/><rect x="384.10" y="233.1" width="2.8" height="19.3" fill="#fa2f62" stroke="#ffe0e5" stroke-width="0.9"/><rect x="388.10" y="248.0" width="2.8" height="4.4" fill="#2bb257" stroke="#dff7e2" stroke-width="0.9"/><rect x="392.10" y="241.2" width="2.8" height="20.5" fill="#2bb257" stroke="#dff7e2" stroke-width="0.9"/><rect x="396.10" y="231.2" width="2.8" height="14.9" fill="#2bb257" stroke="#dff7e2" stroke-width="0.9"/><rect x="400.10" y="223.9" width="2.8" height="19.5" fill="#2bb257" stroke="#dff7e2" stroke-width="0.9"/><rect x="404.20" y="230.3" width="2.6" height="1.4" fill="#d6d6d6"/><rect x="408.10" y="212.8" width="2.8" height="15.4" fill="#2bb257" stroke="#dff7e2" stroke-width="0.9"/><rect x="412.10" y="219.1" width="2.8" height="8.3" fill="#fa2f62" stroke="#ffe0e5" stroke-width="0.9"/><rect x="416.10" y="226.1" width="2.8" height="9.4" fill="#fa2f62" stroke="#ffe0e5" stroke-width="0.9"/><rect x="420.50" y="236.8" width="1.9" height="6.8" fill="#c2dcc8"/><rect x="424.20" y="228.8" width="2.6" height="1.4" fill="#d6d6d6"/><rect x="428.50" y="227.0" width="1.9" height="4.0" fill="#efbcc6"/><rect x="432.50" y="207.5" width="1.9" height="11.8" fill="#c2dcc8"/><rect x="436.50" y="209.3" width="1.9" height="10.0" fill="#efbcc6"/><rect x="440.50" y="218.7" width="1.9" height="19.3" fill="#efbcc6"/><rect x="444.20" y="239.8" width="2.6" height="1.4" fill="#d6d6d6"/><rect x="448.10" y="247.1" width="2.8" height="7.7" fill="#fa2f62" stroke="#ffe0e5" stroke-width="0.9"/><rect x="453.10" y="237.1" width="2.8" height="18.4" fill="#2bb257" stroke="#dff7e2" stroke-width="0.9"/><rect x="457.10" y="243.0" width="2.8" height="5.0" fill="#fa2f62" stroke="#ffe0e5" stroke-width="0.9"/><rect x="461.10" y="251.1" width="2.8" height="10.0" fill="#2bb257" stroke="#dff7e2" stroke-width="0.9"/><rect x="465.10" y="201.2" width="2.8" height="12.2" fill="#2bb257" stroke="#dff7e2" stroke-width="0.9"/><rect x="469.10" y="193.8" width="2.8" height="3.2" fill="#fa2f62" stroke="#ffe0e5" stroke-width="0.9"/><rect x="473.10" y="211.0" width="2.8" height="3.0" fill="#2bb257" stroke="#dff7e2" stroke-width="0.9"/><rect x="477.10" y="209.0" width="2.8" height="3.0" fill="#fa2f62" stroke="#ffe0e5" stroke-width="0.9"/><rect x="481.10" y="192.0" width="2.8" height="25.4" fill="#2bb257" stroke="#dff7e2" stroke-width="0.9"/><rect x="485.10" y="179.3" width="2.8" height="6.3" fill="#2bb257" stroke="#dff7e2" stroke-width="0.9"/><rect x="489.10" y="170.4" width="2.8" height="5.2" fill="#2bb257" stroke="#dff7e2" stroke-width="0.9"/><rect x="493.10" y="165.9" width="2.8" height="6.6" fill="#2bb257" stroke="#dff7e2" stroke-width="0.9"/><rect x="497.50" y="151.9" width="1.9" height="10.0" fill="#c2dcc8"/><rect x="501.20" y="155.6" width="2.6" height="1.4" fill="#d6d6d6"/><rect x="505.20" y="151.8" width="2.6" height="1.4" fill="#d6d6d6"/><rect x="509.50" y="148.2" width="1.9" height="23.7" fill="#efbcc6"/><rect x="513.50" y="151.3" width="1.9" height="17.4" fill="#c2dcc8"/><rect x="517.50" y="140.1" width="1.9" height="8.7" fill="#efbcc6"/><rect x="521.10" y="150.4" width="2.8" height="4.0" fill="#2bb257" stroke="#dff7e2" stroke-width="0.9"/><rect x="525.10" y="136.3" width="2.8" height="6.9" fill="#2bb257" stroke="#dff7e2" stroke-width="0.9"/><rect x="530.10" y="144.2" width="2.8" height="11.4" fill="#fa2f62" stroke="#ffe0e5" stroke-width="0.9"/><rect x="534.20" y="155.8" width="2.6" height="1.4" fill="#d6d6d6"/><rect x="538.10" y="128.0" width="2.8" height="23.7" fill="#2bb257" stroke="#dff7e2" stroke-width="0.9"/><rect x="542.10" y="131.3" width="2.8" height="3.1" fill="#fa2f62" stroke="#ffe0e5" stroke-width="0.9"/><rect x="546.10" y="133.2" width="2.8" height="7.7" fill="#fa2f62" stroke="#ffe0e5" stroke-width="0.9"/><rect x="550.10" y="147.3" width="2.8" height="18.3" fill="#fa2f62" stroke="#ffe0e5" stroke-width="0.9"/><rect x="554.10" y="168.1" width="2.8" height="4.7" fill="#fa2f62" stroke="#ffe0e5" stroke-width="0.9"/><rect x="558.10" y="158.1" width="2.8" height="6.3" fill="#2bb257" stroke="#dff7e2" stroke-width="0.9"/><rect x="562.10" y="145.4" width="2.8" height="8.1" fill="#2bb257" stroke="#dff7e2" stroke-width="0.9"/><rect x="566.10" y="149.7" width="2.8" height="32.7" fill="#fa2f62" stroke="#ffe0e5" stroke-width="0.9"/><rect x="570.20" y="185.1" width="2.6" height="1.4" fill="#d6d6d6"/><rect x="574.50" y="185.6" width="1.9" height="11.8" fill="#efbcc6"/><rect x="578.50" y="186.2" width="1.9" height="11.2" fill="#c2dcc8"/><rect x="582.50" y="183.7" width="1.9" height="11.8" fill="#c2dcc8"/><rect x="586.50" y="178.1" width="1.9" height="25.5" fill="#efbcc6"/><rect x="590.50" y="208.0" width="1.9" height="14.3" fill="#efbcc6"/><rect x="594.50" y="216.1" width="1.9" height="6.2" fill="#efbcc6"/><rect x="598.10" y="223.8" width="2.8" height="7.9" fill="#2bb257" stroke="#dff7e2" stroke-width="0.9"/><rect x="603.10" y="221.1" width="2.8" height="11.0" fill="#fa2f62" stroke="#ffe0e5" stroke-width="0.9"/><rect x="607.10" y="229.2" width="2.8" height="3.1" fill="#fa2f62" stroke="#ffe0e5" stroke-width="0.9"/><rect x="611.10" y="213.0" width="2.8" height="12.5" fill="#2bb257" stroke="#dff7e2" stroke-width="0.9"/><rect x="615.10" y="203.0" width="2.8" height="13.1" fill="#2bb257" stroke="#dff7e2" stroke-width="0.9"/><rect x="619.10" y="195.2" width="2.8" height="8.4" fill="#fa2f62" stroke="#ffe0e5" stroke-width="0.9"/><rect x="623.10" y="172.2" width="2.8" height="26.2" fill="#2bb257" stroke="#dff7e2" stroke-width="0.9"/><rect x="627.10" y="154.1" width="2.8" height="18.4" fill="#2bb257" stroke="#dff7e2" stroke-width="0.9"/><rect x="631.10" y="125.2" width="2.8" height="26.4" fill="#2bb257" stroke="#dff7e2" stroke-width="0.9"/><rect x="635.10" y="118.3" width="2.8" height="47.1" fill="#fa2f62" stroke="#ffe0e5" stroke-width="0.9"/><rect x="639.10" y="159.7" width="2.8" height="15.0" fill="#fa2f62" stroke="#ffe0e5" stroke-width="0.9"/><rect x="643.10" y="144.1" width="2.8" height="28.4" fill="#2bb257" stroke="#dff7e2" stroke-width="0.9"/><rect x="647.10" y="119.2" width="2.8" height="20.9" fill="#2bb257" stroke="#dff7e2" stroke-width="0.9"/><rect x="651.50" y="98.0" width="1.9" height="18.7" fill="#c2dcc8"/><rect x="655.50" y="82.4" width="1.9" height="6.2" fill="#c2dcc8"/><rect x="659.50" y="75.5" width="1.9" height="29.3" fill="#efbcc6"/><rect x="663.20" y="94.8" width="2.6" height="1.4" fill="#d6d6d6"/><rect x="667.50" y="109.2" width="1.9" height="21.2" fill="#efbcc6"/><rect x="671.20" y="122.8" width="2.6" height="1.4" fill="#d6d6d6"/><rect x="675.10" y="97.2" width="2.8" height="29.5" fill="#2bb257" stroke="#dff7e2" stroke-width="0.9"/><rect x="680.10" y="72.1" width="2.8" height="19.4" fill="#2bb257" stroke="#dff7e2" stroke-width="0.9"/><rect x="684.20" y="73.8" width="2.6" height="1.4" fill="#d6d6d6"/><rect x="688.10" y="50.2" width="2.8" height="20.3" fill="#2bb257" stroke="#dff7e2" stroke-width="0.9"/><rect x="692.10" y="54.3" width="2.8" height="5.4" fill="#fa2f62" stroke="#ffe0e5" stroke-width="0.9"/><rect x="696.20" y="59.2" width="2.6" height="1.4" fill="#d6d6d6"/><rect x="700.10" y="56.2" width="2.8" height="18.1" fill="#fa2f62" stroke="#ffe0e5" stroke-width="0.9"/><rect x="704.10" y="69.9" width="2.8" height="8.1" fill="#fa2f62" stroke="#ffe0e5" stroke-width="0.9"/><rect x="708.10" y="84.2" width="2.8" height="14.4" fill="#fa2f62" stroke="#ffe0e5" stroke-width="0.9"/><rect x="712.10" y="101.3" width="2.8" height="10.5" fill="#2bb257" stroke="#dff7e2" stroke-width="0.9"/><rect x="716.10" y="113.4" width="2.8" height="38.7" fill="#fa2f62" stroke="#ffe0e5" stroke-width="0.9"/><rect x="720.10" y="157.1" width="2.8" height="9.3" fill="#fa2f62" stroke="#ffe0e5" stroke-width="0.9"/><rect x="724.10" y="157.1" width="2.8" height="14.3" fill="#2bb257" stroke="#dff7e2" stroke-width="0.9"/><rect x="728.50" y="169.5" width="1.9" height="23.1" fill="#efbcc6"/><rect x="732.50" y="180.0" width="1.9" height="6.4" fill="#c2dcc8"/><rect x="736.50" y="133.3" width="1.9" height="34.4" fill="#c2dcc8"/><rect x="740.50" y="137.1" width="1.9" height="3.7" fill="#efbcc6"/><rect x="744.20" y="133.8" width="2.6" height="1.4" fill="#d6d6d6"/><rect x="748.20" y="148.3" width="2.6" height="1.4" fill="#d6d6d6"/><rect x="752.20" y="140.2" width="2.6" height="1.4" fill="#d6d6d6"/><rect x="757.10" y="143.4" width="2.8" height="3.1" fill="#2bb257" stroke="#dff7e2" stroke-width="0.9"/><rect x="761.10" y="109.9" width="2.8" height="37.1" fill="#2bb257" stroke="#dff7e2" stroke-width="0.9"/><rect x="765.10" y="103.2" width="2.8" height="17.7" fill="#fa2f62" stroke="#ffe0e5" stroke-width="0.9"/><rect x="769.10" y="111.1" width="2.8" height="8.3" fill="#2bb257" stroke="#dff7e2" stroke-width="0.9"/><rect x="773.10" y="115.3" width="2.8" height="25.1" fill="#fa2f62" stroke="#ffe0e5" stroke-width="0.9"/><rect x="777.10" y="142.1" width="2.8" height="30.6" fill="#fa2f62" stroke="#ffe0e5" stroke-width="0.9"/><rect x="781.10" y="157.7" width="2.8" height="14.3" fill="#2bb257" stroke="#dff7e2" stroke-width="0.9"/><rect x="785.10" y="104.0" width="2.8" height="54.3" fill="#2bb257" stroke="#dff7e2" stroke-width="0.9"/><rect x="789.20" y="110.2" width="2.6" height="1.4" fill="#d6d6d6"/><rect x="793.10" y="99.4" width="2.8" height="27.1" fill="#fa2f62" stroke="#ffe0e5" stroke-width="0.9"/><rect x="797.10" y="125.2" width="2.8" height="11.2" fill="#fa2f62" stroke="#ffe0e5" stroke-width="0.9"/><rect x="801.10" y="124.0" width="2.8" height="12.4" fill="#2bb257" stroke="#dff7e2" stroke-width="0.9"/><rect x="805.10" y="128.3" width="2.8" height="4.4" fill="#fa2f62" stroke="#ffe0e5" stroke-width="0.9"/><rect x="809.50" y="125.2" width="1.9" height="25.0" fill="#efbcc6"/><rect x="813.50" y="132.7" width="1.9" height="18.8" fill="#efbcc6"/><rect x="817.50" y="149.6" width="1.9" height="38.0" fill="#efbcc6"/><rect x="821.50" y="183.3" width="1.9" height="6.8" fill="#c2dcc8"/><rect x="825.50" y="185.7" width="1.9" height="18.1" fill="#efbcc6"/><rect x="830.10" y="201.3" width="2.8" height="11.0" fill="#fa2f62" stroke="#ffe0e5" stroke-width="0.9"/><rect x="834.10" y="209.4" width="2.8" height="5.0" fill="#fa2f62" stroke="#ffe0e5" stroke-width="0.9"/><rect x="838.10" y="195.4" width="2.8" height="9.6" fill="#2bb257" stroke="#dff7e2" stroke-width="0.9"/><rect x="842.10" y="185.0" width="2.8" height="7.5" fill="#2bb257" stroke="#dff7e2" stroke-width="0.9"/><rect x="846.10" y="167.3" width="2.8" height="7.4" fill="#2bb257" stroke="#dff7e2" stroke-width="0.9"/><rect x="850.10" y="163.2" width="2.8" height="8.7" fill="#fa2f62" stroke="#ffe0e5" stroke-width="0.9"/><rect x="854.10" y="145.1" width="2.8" height="38.4" fill="#2bb257" stroke="#dff7e2" stroke-width="0.9"/><rect x="858.10" y="155.1" width="2.8" height="3.7" fill="#fa2f62" stroke="#ffe0e5" stroke-width="0.9"/><rect x="862.10" y="164.2" width="2.8" height="22.4" fill="#fa2f62" stroke="#ffe0e5" stroke-width="0.9"/><rect x="866.10" y="162.0" width="2.8" height="28.4" fill="#2bb257" stroke="#dff7e2" stroke-width="0.9"/><rect x="870.10" y="161.3" width="2.8" height="6.3" fill="#fa2f62" stroke="#ffe0e5" stroke-width="0.9"/><rect x="874.10" y="162.0" width="2.8" height="5.6" fill="#2bb257" stroke="#dff7e2" stroke-width="0.9"/><rect x="878.20" y="161.8" width="2.6" height="1.4" fill="#d6d6d6"/><rect x="882.50" y="157.0" width="1.9" height="3.0" fill="#c2dcc8"/><rect x="886.50" y="153.8" width="1.9" height="13.8" fill="#efbcc6"/><rect x="890.50" y="163.2" width="1.9" height="8.1" fill="#efbcc6"/><rect x="894.50" y="158.2" width="1.9" height="20.0" fill="#c2dcc8"/><rect x="898.50" y="165.1" width="1.9" height="26.8" fill="#efbcc6"/><rect x="902.50" y="165.1" width="1.9" height="26.2" fill="#c2dcc8"/><rect x="907.10" y="158.0" width="2.8" height="24.5" fill="#fa2f62" stroke="#ffe0e5" stroke-width="0.9"/><rect x="911.10" y="165.1" width="2.8" height="20.3" fill="#2bb257" stroke="#dff7e2" stroke-width="0.9"/><rect x="915.10" y="165.1" width="2.8" height="6.8" fill="#fa2f62" stroke="#ffe0e5" stroke-width="0.9"/><rect x="919.10" y="140.0" width="2.8" height="24.3" fill="#2bb257" stroke="#dff7e2" stroke-width="0.9"/><rect x="923.10" y="139.1" width="2.8" height="7.8" fill="#2bb257" stroke="#dff7e2" stroke-width="0.9"/><rect x="927.10" y="118.8" width="2.8" height="15.0" fill="#2bb257" stroke="#dff7e2" stroke-width="0.9"/><rect x="931.10" y="108.8" width="2.8" height="15.0" fill="#2bb257" stroke="#dff7e2" stroke-width="0.9"/><rect x="935.10" y="115.1" width="2.8" height="3.7" fill="#2bb257" stroke="#dff7e2" stroke-width="0.9"/><rect x="939.10" y="125.0" width="2.8" height="10.0" fill="#fa2f62" stroke="#ffe0e5" stroke-width="0.9"/><rect x="943.10" y="124.2" width="2.8" height="13.7" fill="#fa2f62" stroke="#ffe0e5" stroke-width="0.9"/><rect x="947.10" y="122.9" width="2.8" height="19.0" fill="#2bb257" stroke="#dff7e2" stroke-width="0.9"/><rect x="951.10" y="127.9" width="2.8" height="12.1" fill="#fa2f62" stroke="#ffe0e5" stroke-width="0.9"/><rect x="955.10" y="125.0" width="2.8" height="10.0" fill="#fa2f62" stroke="#ffe0e5" stroke-width="0.9"/><rect x="959.20" y="134.3" width="2.6" height="1.4" fill="#d6d6d6"/><rect x="963.50" y="135.6" width="1.9" height="43.8" fill="#efbcc6"/><rect x="967.50" y="156.8" width="1.9" height="21.4" fill="#c2dcc8"/><rect x="971.50" y="154.3" width="1.9" height="19.5" fill="#c2dcc8"/><rect x="975.50" y="146.8" width="1.9" height="27.5" fill="#efbcc6"/><rect x="979.50" y="174.3" width="1.9" height="13.1" fill="#efbcc6"/><rect x="984.10" y="177.4" width="2.8" height="28.1" fill="#fa2f62" stroke="#ffe0e5" stroke-width="0.9"/><rect x="988.10" y="191.8" width="2.8" height="3.1" fill="#fa2f62" stroke="#ffe0e5" stroke-width="0.9"/><rect x="992.10" y="183.4" width="2.8" height="22.1" fill="#fa2f62" stroke="#ffe0e5" stroke-width="0.9"/><rect x="996.10" y="198.4" width="2.8" height="13.9" fill="#fa2f62" stroke="#ffe0e5" stroke-width="0.9"/><rect x="1000.10" y="183.4" width="2.8" height="27.1" fill="#2bb257" stroke="#dff7e2" stroke-width="0.9"/><rect x="1004.10" y="185.3" width="2.8" height="6.5" fill="#fa2f62" stroke="#ffe0e5" stroke-width="0.9"/><rect x="1008.10" y="148.1" width="2.8" height="44.9" fill="#2bb257" stroke="#dff7e2" stroke-width="0.9"/><rect x="1012.10" y="105.1" width="2.8" height="45.2" fill="#2bb257" stroke="#dff7e2" stroke-width="0.9"/><rect x="1016.20" y="109.7" width="2.6" height="1.4" fill="#d6d6d6"/><rect x="1020.10" y="118.2" width="2.8" height="16.2" fill="#fa2f62" stroke="#ffe0e5" stroke-width="0.9"/><rect x="1024.10" y="127.5" width="2.8" height="2.5" fill="#fa2f62" stroke="#ffe0e5" stroke-width="0.9"/><rect x="1028.10" y="126.3" width="2.8" height="18.0" fill="#fa2f62" stroke="#ffe0e5" stroke-width="0.9"/>
</g>
<g clip-path="url(#cp)">
<path d="M12.5,304.6C13.3,305.0 15.5,306.5 17.5,307.1C19.5,307.7 21.8,307.9 24.3,308.3C26.8,308.7 29.6,309.5 32.4,309.6C35.2,309.7 38.7,309.4 41.2,308.9C43.7,308.4 45.1,307.5 47.4,306.4C49.7,305.3 52.2,303.9 54.9,302.1C57.6,300.4 60.7,297.6 63.6,295.9C66.5,294.2 68.8,294.0 72.3,292.1C75.8,290.2 80.6,287.3 84.8,284.6C89.0,281.9 93.1,279.0 97.3,275.9C101.5,272.8 105.6,269.4 109.8,265.9C114.0,262.4 118.9,257.6 122.2,254.7C125.5,251.8 127.2,250.9 129.7,248.5C132.2,246.1 134.3,243.0 137.2,240.3C140.1,237.6 143.9,234.7 147.2,232.1C150.5,229.5 153.8,227.2 157.1,224.7C160.4,222.2 163.8,220.1 167.1,217.2C170.4,214.3 173.8,210.5 177.1,207.2C180.4,203.9 183.8,200.3 187.1,197.2C190.4,194.1 193.7,191.6 197.0,188.5C200.3,185.4 203.7,181.6 207.0,178.5C210.3,175.4 213.7,172.3 217.0,169.8C220.3,167.3 223.9,165.2 227.0,163.6C230.1,162.0 232.8,160.6 235.7,160.3C238.6,160.0 241.3,161.3 244.4,161.6C247.5,161.9 251.1,162.2 254.4,162.3C257.7,162.4 261.1,162.2 264.4,162.3C267.7,162.4 271.7,162.7 274.3,162.8C276.9,162.9 277.0,162.7 280.0,163.0C283.0,163.3 288.4,164.2 292.5,164.4C296.6,164.6 300.8,164.2 304.9,164.4C309.0,164.6 313.2,164.8 317.4,165.4C321.6,166.0 325.8,166.8 329.9,167.9C334.0,169.0 338.1,171.2 342.3,171.8C346.5,172.5 350.6,171.1 354.8,171.8C359.0,172.5 363.1,174.1 367.3,176.1C371.5,178.1 375.7,181.1 379.8,183.6C383.9,186.1 388.1,188.7 392.2,191.0C396.3,193.3 400.5,195.0 404.7,197.3C408.9,199.6 413.0,202.4 417.2,204.8C421.4,207.2 425.5,209.8 429.6,211.7C433.8,213.6 437.9,215.0 442.1,216.0C446.3,217.0 450.5,216.9 454.6,217.7C458.8,218.5 462.9,220.1 467.0,221.0C471.1,221.9 475.6,222.9 479.5,223.0C483.4,223.1 486.6,222.1 490.7,221.5C494.8,220.9 500.0,220.6 504.4,219.7C508.8,218.8 512.7,217.2 516.9,216.0C521.1,214.8 525.2,213.6 529.4,212.2C533.5,210.8 537.6,209.0 541.8,207.3C545.9,205.6 550.8,203.2 554.3,201.8C557.8,200.5 559.1,200.2 562.5,199.2C565.9,198.2 570.8,196.8 574.9,196.0C579.0,195.2 583.2,194.7 587.4,194.2C591.6,193.7 595.8,193.3 599.9,193.0C604.0,192.7 608.2,192.5 612.3,192.2C616.4,191.9 620.5,192.0 624.3,191.0C628.0,190.0 631.4,187.5 634.8,186.0C638.2,184.5 641.5,183.9 644.8,182.2C648.1,180.5 651.4,178.2 654.7,176.0C658.0,173.8 662.2,171.0 664.7,169.3C667.2,167.6 667.2,167.6 669.7,166.0C672.2,164.4 676.4,161.8 679.7,159.8C683.0,157.9 686.4,155.9 689.7,154.3C693.0,152.7 696.3,151.6 699.6,150.3C702.9,149.1 706.3,147.7 709.6,146.8C712.9,145.9 716.3,144.8 719.6,144.8C722.9,144.8 726.3,146.4 729.6,146.8C732.9,147.2 736.2,147.2 739.5,147.3C742.8,147.4 745.8,147.6 749.5,147.3C753.2,147.0 757.9,146.1 762.0,145.3C766.1,144.5 770.2,143.1 774.4,142.3C778.5,141.5 782.7,141.8 786.9,140.3C791.1,138.9 795.5,135.7 799.4,133.6C803.2,131.5 806.2,128.9 810.0,127.8C813.8,126.7 818.2,126.4 822.4,126.8C826.5,127.2 830.3,129.2 834.9,130.3C839.5,131.4 845.3,132.4 849.9,133.6C854.5,134.8 858.1,136.2 862.3,137.3C866.4,138.4 870.6,139.1 874.8,140.3C879.0,141.6 883.1,143.0 887.3,144.8C891.5,146.6 896.1,149.1 899.8,151.0C903.5,152.9 906.8,154.8 909.7,156.0C912.6,157.2 914.3,157.8 917.2,158.0C920.1,158.2 923.9,157.8 927.2,157.3C930.5,156.8 934.3,155.4 937.2,154.8C940.1,154.2 941.7,153.8 944.6,153.5C947.5,153.2 951.3,152.9 954.6,153.0C957.9,153.1 961.3,153.8 964.6,154.3C967.9,154.8 971.3,155.3 974.6,156.0C977.9,156.7 981.2,157.5 984.5,158.5C987.8,159.5 991.2,161.1 994.5,162.2C997.8,163.3 1001.6,164.6 1004.5,165.2C1007.4,165.8 1009.1,165.8 1012.0,165.5C1014.9,165.2 1019.0,164.2 1021.9,163.5C1024.8,162.8 1028.2,161.8 1029.4,161.5" fill="none" stroke="#f06f6a" stroke-width="1.2" stroke-linejoin="round" stroke-linecap="round"/>
<path d="M12.5,322.8C12.7,322.3 11.6,322.8 13.7,320.0C15.8,317.2 21.1,310.4 25.0,305.8C28.9,301.2 33.1,297.9 36.8,292.7C40.5,287.5 44.5,280.0 47.4,274.7C50.3,269.4 52.0,265.5 54.3,260.9C56.6,256.3 58.9,251.3 61.1,247.2C63.3,243.0 65.5,239.8 67.4,236.0C69.3,232.2 69.8,229.5 72.3,224.7C74.8,219.9 79.4,212.0 82.3,207.2C85.2,202.4 87.5,198.9 89.8,196.0C92.1,193.1 93.5,191.2 96.0,189.8C98.5,188.4 101.7,188.5 104.8,187.3C107.9,186.1 111.4,184.3 114.7,182.8C118.0,181.3 121.4,179.9 124.7,178.5C128.0,177.1 132.2,174.5 134.7,174.3C137.2,174.1 137.6,175.9 139.7,177.3C141.8,178.7 144.3,181.6 147.2,182.8C150.1,184.1 153.8,184.7 157.1,184.8C160.4,184.9 163.8,185.0 167.1,183.5C170.4,182.0 173.8,179.1 177.1,176.0C180.4,172.9 183.8,167.7 187.1,164.8C190.4,161.9 193.7,160.7 197.0,158.6C200.3,156.5 203.7,154.1 207.0,152.3C210.3,150.5 213.7,150.4 217.0,147.9C220.3,145.4 223.9,140.9 227.0,137.4C230.1,133.9 233.2,128.0 235.7,126.9C238.2,125.9 239.2,128.9 241.9,131.1C244.6,133.3 248.6,137.5 251.9,139.9C255.2,142.3 258.6,143.5 261.9,145.4C265.2,147.3 268.7,149.3 271.8,151.1C274.9,152.9 277.6,153.8 280.6,156.1C283.6,158.4 286.8,161.6 290.0,164.9C293.2,168.2 296.7,171.9 300.0,176.1C303.3,180.2 307.0,186.4 309.9,189.8C312.8,193.2 314.1,196.4 317.4,196.8C320.7,197.2 326.6,192.2 329.9,192.3C333.2,192.4 334.5,195.0 337.4,197.3C340.3,199.6 344.4,204.4 347.3,206.0C350.2,207.6 351.9,205.4 354.8,206.8C357.7,208.2 361.5,212.3 364.8,214.7C368.1,217.1 371.5,219.3 374.8,221.0C378.1,222.7 381.4,223.6 384.7,224.7C388.0,225.8 391.4,226.7 394.7,227.7C398.0,228.7 401.4,230.2 404.7,230.9C408.0,231.7 410.5,232.0 414.7,232.2C418.9,232.4 424.6,232.2 429.6,232.2C434.6,232.2 440.4,232.1 444.6,232.2C448.8,232.3 451.9,232.4 454.6,232.7C457.3,233.0 458.3,234.4 460.8,233.9C463.3,233.4 466.4,231.0 469.5,229.7C472.6,228.4 476.0,227.4 479.5,226.0C483.0,224.6 487.4,223.3 490.7,221.0C494.0,218.7 496.4,215.1 499.5,212.2C502.6,209.3 506.1,206.4 509.4,203.5C512.7,200.6 516.1,198.3 519.4,194.8C522.7,191.3 526.1,186.7 529.4,182.3C532.7,177.9 536.1,172.1 539.4,168.6C542.7,165.1 546.3,163.2 549.3,161.1C552.3,159.0 554.9,157.3 557.5,156.1C560.1,154.9 562.1,154.1 565.0,154.1C567.9,154.1 571.6,154.9 574.9,156.1C578.2,157.2 581.6,159.1 584.9,161.0C588.2,162.9 591.6,164.6 594.9,167.3C598.2,170.0 601.6,174.2 604.9,177.3C608.2,180.4 611.6,183.6 614.8,186.0C618.0,188.4 621.0,190.7 624.3,191.5C627.6,192.3 631.4,191.2 634.8,191.0C638.2,190.8 641.5,191.9 644.8,190.2C648.1,188.5 651.4,184.4 654.7,181.0C658.0,177.6 662.2,172.3 664.7,169.8C667.2,167.3 667.2,169.8 669.7,166.0C672.2,162.2 676.4,154.0 679.7,147.3C683.0,140.7 686.4,132.3 689.7,126.1C693.0,119.9 696.3,114.1 699.6,109.9C702.9,105.8 706.3,103.1 709.6,101.2C712.9,99.3 716.7,98.7 719.6,98.7C722.5,98.7 724.2,99.5 727.1,101.2C730.0,102.9 733.3,106.6 737.0,108.7C740.7,110.8 745.3,111.8 749.5,113.7C753.7,115.6 758.2,117.6 762.0,119.9C765.8,122.2 769.1,124.7 772.0,127.4C774.9,130.1 776.9,133.9 779.4,136.1C781.9,138.3 784.0,139.8 786.9,140.6C789.8,141.4 793.5,141.6 796.9,141.1C800.3,140.6 804.5,138.4 807.5,137.3C810.5,136.2 812.5,134.1 815.0,134.3C817.5,134.5 819.9,136.8 822.4,138.6C824.9,140.3 827.0,142.3 829.9,144.8C832.8,147.3 836.6,150.9 839.9,153.5C843.2,156.1 846.6,159.2 849.9,160.5C853.2,161.8 857.0,160.5 859.9,161.0C862.8,161.5 864.8,162.2 867.3,163.5C869.8,164.8 871.9,167.0 874.8,168.5C877.7,170.0 881.5,171.6 884.8,172.7C888.1,173.8 891.5,174.9 894.8,175.2C898.1,175.5 901.4,175.6 904.7,174.7C908.0,173.8 911.4,171.8 914.7,169.7C918.0,167.6 921.4,164.3 924.7,162.2C928.0,160.1 931.4,158.8 934.7,157.3C938.0,155.9 941.3,154.8 944.6,153.5C947.9,152.2 951.3,150.3 954.6,149.3C957.9,148.3 961.3,147.7 964.6,147.3C967.9,146.9 971.3,146.6 974.6,146.8C977.9,147.0 981.2,147.4 984.5,148.5C987.8,149.6 991.2,151.7 994.5,153.5C997.8,155.3 1001.6,158.1 1004.5,159.3C1007.4,160.5 1009.1,160.3 1012.0,160.5C1014.9,160.7 1019.0,160.3 1021.9,160.2C1024.8,160.1 1028.2,159.9 1029.4,159.8" fill="none" stroke="#f0c81e" stroke-width="1.3" stroke-linejoin="round" stroke-linecap="round"/>
</g>
<line x1="12.5" x2="1054.8" y1="34.2" y2="34.2" stroke="#3a9662" stroke-width="2.1" stroke-dasharray="7.72 3.36"/>
<line x1="12.5" x2="1054.8" y1="315" y2="315" stroke="#dc3f3a" stroke-opacity="0.88" stroke-width="2.1" stroke-dasharray="7.72 3.36"/>
<circle cx="24.3" cy="307.7" r="3.1" fill="#0dc653"/>
<circle cx="292.4" cy="166.5" r="3.1" fill="#ff1a4a"/>
<circle cx="490.7" cy="221.5" r="3.1" fill="#0dc653"/>
<circle cx="624.3" cy="191.5" r="3.1" fill="#ff1a4a"/>
<circle cx="669.7" cy="166.5" r="3.1" fill="#0dc653"/>
<circle cx="786.4" cy="140.3" r="3.1" fill="#ff1a4a"/>
<circle cx="944.6" cy="154.3" r="3.1" fill="#0dc653"/>
<circle cx="1029.4" cy="161.5" r="3.1" fill="#ff1a4a"/>
<rect x="18.4" y="407.2" width="13.2" height="14.8" fill="#0ec95a"/>
<text filter="url(#f0)" x="24.9" y="418.9" text-anchor="middle" font-size="11.6" font-weight="bold" fill="#ffffff" stroke="#ffffff" stroke-width="0.35">B</text>
<rect x="285.0" y="407.2" width="13.2" height="14.8" fill="#f5194d"/>
<text filter="url(#f0)" x="291.6" y="418.9" text-anchor="middle" font-size="11.6" font-weight="bold" fill="#ffffff" stroke="#ffffff" stroke-width="0.35">S</text>
<rect x="483.6" y="407.2" width="13.2" height="14.8" fill="#0ec95a"/>
<text filter="url(#f0)" x="490.2" y="418.9" text-anchor="middle" font-size="11.6" font-weight="bold" fill="#ffffff" stroke="#ffffff" stroke-width="0.35">B</text>
<rect x="617.7" y="407.2" width="13.2" height="14.8" fill="#f5194d"/>
<text filter="url(#f0)" x="624.3" y="418.9" text-anchor="middle" font-size="11.6" font-weight="bold" fill="#ffffff" stroke="#ffffff" stroke-width="0.35">S</text>
<rect x="663.1" y="407.2" width="13.2" height="14.8" fill="#0ec95a"/>
<text filter="url(#f0)" x="669.7" y="418.9" text-anchor="middle" font-size="11.6" font-weight="bold" fill="#ffffff" stroke="#ffffff" stroke-width="0.35">B</text>
<rect x="779.8" y="407.2" width="13.2" height="14.8" fill="#f5194d"/>
<text filter="url(#f0)" x="786.4" y="418.9" text-anchor="middle" font-size="11.6" font-weight="bold" fill="#ffffff" stroke="#ffffff" stroke-width="0.35">S</text>
<rect x="938.0" y="407.2" width="13.2" height="14.8" fill="#0ec95a"/>
<text filter="url(#f0)" x="944.6" y="418.9" text-anchor="middle" font-size="11.6" font-weight="bold" fill="#ffffff" stroke="#ffffff" stroke-width="0.35">B</text>
<rect x="1022.8" y="407.2" width="13.2" height="14.8" fill="#f5194d"/>
<text filter="url(#f0)" x="1029.4" y="418.9" text-anchor="middle" font-size="11.6" font-weight="bold" fill="#ffffff" stroke="#ffffff" stroke-width="0.35">S</text>
<g>
<line x1="652" y1="27.6" x2="686" y2="32.4" stroke="#22b560" stroke-width="2.2"/>
<polygon points="693.4,33.7 683.4,36.8 684.8,28.2" fill="#22b560"/>
<rect x="561.6" y="13" width="90" height="19" rx="3" ry="3" fill="#0c0c0c" stroke="#22b560" stroke-width="1.8"/>
<text filter="url(#f0)" x="606.6" y="27.2" text-anchor="middle" font-size="14" font-weight="bold" letter-spacing="0.8" fill="#22c064">$41.62 52W</text>
</g>
<g>
<line x1="57" y1="320.6" x2="21" y2="316.4" stroke="#e8302c" stroke-width="2.2"/>
<polygon points="13.4,315.4 23.6,312.2 22.4,320.6" fill="#e8302c"/>
<rect x="57.9" y="318.4" width="89" height="18" rx="3" ry="3" fill="#1c1414" stroke="#e8302c" stroke-width="1.6"/>
<text filter="url(#f0)" x="102.6" y="332" text-anchor="middle" font-size="14" font-weight="bold" letter-spacing="0.8" fill="#ee3a34">$34.13 52W</text>
</g>
<rect x="914.9" y="50.3" width="10.2" height="9.6" fill="#f5cf1d"/>
<text filter="url(#f0)" x="930.4" y="58.6" font-size="13" font-weight="bold" letter-spacing="1.0" fill="#f5cf1d">SMA 20</text>
<rect x="914.9" y="66" width="10.2" height="9.6" fill="#f4706b"/>
<text filter="url(#f0)" x="930.4" y="74.4" font-size="13" font-weight="bold" letter-spacing="1.0" fill="#f4706b">SMA 50</text>
<rect x="12.5" y="11.5" width="1042.3" height="416.1" fill="none" stroke="#949494" stroke-width="0.9"/>
<rect x="12.5" y="428.6" width="1042.3" height="165.69999999999993" fill="#858585"/>
<line x1="12.5" x2="1054.8" y1="428.3" y2="428.3" stroke="#9c9c9c" stroke-width="1.6"/>
<text filter="url(#f0)" transform="translate(482.4,480.7) scale(1.07,1)" x="0" y="0" text-anchor="middle" font-size="59.5" font-weight="bold" letter-spacing="0" fill="#7a7a7a" fill-opacity="0.7">WTRG</text>
<text filter="url(#f0)" x="480.5" y="496.3" text-anchor="middle" font-size="16" letter-spacing="1.1" fill="#7a7a7a" fill-opacity="0.7">Essential Utilities, Inc</text>
<g clip-path="url(#cv)" shape-rendering="crispEdges">
<rect x="10.17" y="559.1" width="4.103" height="35.2" fill="#1e961e"/>
<rect x="14.23" y="554.8" width="4.103" height="39.5" fill="#1e961e"/>
<rect x="18.28" y="549.9" width="4.103" height="44.4" fill="#1e961e"/>
<rect x="22.33" y="545.9" width="4.103" height="48.4" fill="#1e961e"/>
<rect x="26.39" y="542.0" width="4.103" height="52.3" fill="#ff0d00"/>
<rect x="30.44" y="555.3" width="4.103" height="39.0" fill="#1e961e"/>
<rect x="34.49" y="528.1" width="4.103" height="66.2" fill="#ff0d00"/>
<rect x="38.55" y="555.3" width="4.103" height="39.0" fill="#1e961e"/>
<rect x="42.60" y="550.1" width="4.103" height="44.2" fill="#ff0d00"/>
<rect x="46.65" y="563.1" width="4.103" height="31.2" fill="#1e961e"/>
<rect x="50.71" y="564.1" width="4.103" height="30.2" fill="#ff0d00"/>
<rect x="54.76" y="550.1" width="4.103" height="44.2" fill="#1e961e"/>
<rect x="58.82" y="535.2" width="4.103" height="59.1" fill="#1e961e"/>
<rect x="62.87" y="552.3" width="4.103" height="42.0" fill="#ff0d00"/>
<rect x="66.92" y="568.1" width="4.103" height="26.2" fill="#ff0d00"/>
<rect x="70.98" y="565.2" width="4.103" height="29.1" fill="#1e961e"/>
<rect x="75.03" y="567.0" width="4.103" height="27.3" fill="#1e961e"/>
<rect x="79.08" y="566.2" width="4.103" height="28.1" fill="#1e961e"/>
<rect x="83.14" y="570.1" width="4.103" height="24.2" fill="#ff0d00"/>
<rect x="87.19" y="570.8" width="4.103" height="23.5" fill="#ff0d00"/>
<rect x="91.24" y="558.0" width="4.103" height="36.3" fill="#ff0d00"/>
<rect x="95.30" y="513.1" width="4.103" height="81.2" fill="#ff0d00"/>
<rect x="99.35" y="561.3" width="4.103" height="33.0" fill="#ff0d00"/>
<rect x="103.40" y="566.0" width="4.103" height="28.3" fill="#ff0d00"/>
<rect x="107.46" y="567.0" width="4.103" height="27.3" fill="#1e961e"/>
<rect x="111.51" y="547.0" width="4.103" height="47.3" fill="#ff0d00"/>
<rect x="115.56" y="548.1" width="4.103" height="46.2" fill="#1e961e"/>
<rect x="119.62" y="558.8" width="4.103" height="35.5" fill="#ff0d00"/>
<rect x="123.67" y="569.1" width="4.103" height="25.2" fill="#1e961e"/>
<rect x="127.72" y="570.8" width="4.103" height="23.5" fill="#ff0d00"/>
<rect x="131.78" y="557.0" width="4.103" height="37.3" fill="#1e961e"/>
<rect x="135.83" y="513.1" width="4.103" height="81.2" fill="#ff0d00"/>
<rect x="139.89" y="520.2" width="4.103" height="74.1" fill="#ff0d00"/>
<rect x="143.94" y="529.2" width="4.103" height="65.1" fill="#ff0d00"/>
<rect x="147.99" y="525.2" width="4.103" height="69.1" fill="#1e961e"/>
<rect x="152.05" y="545.3" width="4.103" height="49.0" fill="#1e961e"/>
<rect x="156.10" y="559.1" width="4.103" height="35.2" fill="#1e961e"/>
<rect x="160.15" y="568.1" width="4.103" height="26.2" fill="#1e961e"/>
<rect x="164.21" y="564.1" width="4.103" height="30.2" fill="#ff0d00"/>
<rect x="168.26" y="569.8" width="4.103" height="24.5" fill="#ff0d00"/>
<rect x="172.31" y="575.1" width="4.103" height="19.2" fill="#1e961e"/>
<rect x="176.37" y="578.1" width="4.103" height="16.2" fill="#ff0d00"/>
<rect x="180.42" y="570.8" width="4.103" height="23.5" fill="#1e961e"/>
<rect x="184.47" y="553.0" width="4.103" height="41.3" fill="#ff0d00"/>
<rect x="188.53" y="548.1" width="4.103" height="46.2" fill="#ff0d00"/>
<rect x="192.58" y="570.8" width="4.103" height="23.5" fill="#ff0d00"/>
<rect x="196.63" y="567.2" width="4.103" height="27.1" fill="#1e961e"/>
<rect x="200.69" y="568.1" width="4.103" height="26.2" fill="#1e961e"/>
<rect x="204.74" y="544.2" width="4.103" height="50.1" fill="#1e961e"/>
<rect x="208.79" y="570.1" width="4.103" height="24.2" fill="#ff0d00"/>
<rect x="212.85" y="578.8" width="4.103" height="15.5" fill="#ff0d00"/>
<rect x="216.90" y="581.9" width="4.103" height="12.4" fill="#ff0d00"/>
<rect x="220.96" y="569.1" width="4.103" height="25.2" fill="#1e961e"/>
<rect x="225.01" y="570.1" width="4.103" height="24.2" fill="#ff0d00"/>
<rect x="229.06" y="574.1" width="4.103" height="20.2" fill="#ff0d00"/>
<rect x="233.12" y="570.8" width="4.103" height="23.5" fill="#1e961e"/>
<rect x="237.17" y="534.9" width="4.103" height="59.4" fill="#ff0d00"/>
<rect x="241.22" y="559.1" width="4.103" height="35.2" fill="#ff0d00"/>
<rect x="245.28" y="538.9" width="4.103" height="55.4" fill="#ff0d00"/>
<rect x="249.33" y="557.0" width="4.103" height="37.3" fill="#1e961e"/>
<rect x="253.38" y="567.0" width="4.103" height="27.3" fill="#1e961e"/>
<rect x="257.44" y="575.9" width="4.103" height="18.4" fill="#1e961e"/>
<rect x="261.49" y="573.1" width="4.103" height="21.2" fill="#1e961e"/>
<rect x="265.54" y="570.8" width="4.103" height="23.5" fill="#ff0d00"/>
<rect x="269.60" y="578.1" width="4.103" height="16.2" fill="#ff0d00"/>
<rect x="273.65" y="573.1" width="4.103" height="21.2" fill="#1e961e"/>
<rect x="277.70" y="566.0" width="4.103" height="28.3" fill="#ff0d00"/>
<rect x="281.76" y="566.0" width="4.103" height="28.3" fill="#ff0d00"/>
<rect x="285.81" y="556.0" width="4.103" height="38.3" fill="#1e961e"/>
<rect x="289.86" y="501.7" width="4.103" height="92.6" fill="#1e961e"/>
<rect x="293.92" y="572.2" width="4.103" height="22.1" fill="#1e961e"/>
<rect x="297.97" y="570.8" width="4.103" height="23.5" fill="#ff0d00"/>
<rect x="302.03" y="504.0" width="4.103" height="90.3" fill="#ff0d00"/>
<rect x="306.08" y="555.1" width="4.103" height="39.2" fill="#1e961e"/>
<rect x="310.13" y="567.0" width="4.103" height="27.3" fill="#ff0d00"/>
<rect x="314.19" y="560.1" width="4.103" height="34.2" fill="#1e961e"/>
<rect x="318.24" y="569.1" width="4.103" height="25.2" fill="#1e961e"/>
<rect x="322.29" y="559.1" width="4.103" height="35.2" fill="#ff0d00"/>
<rect x="326.35" y="566.0" width="4.103" height="28.3" fill="#1e961e"/>
<rect x="330.40" y="559.1" width="4.103" height="35.2" fill="#ff0d00"/>
<rect x="334.45" y="548.1" width="4.103" height="46.2" fill="#ff0d00"/>
<rect x="338.51" y="545.2" width="4.103" height="49.1" fill="#ff0d00"/>
<rect x="342.56" y="556.0" width="4.103" height="38.3" fill="#1e961e"/>
<rect x="346.61" y="509.0" width="4.103" height="85.3" fill="#1e961e"/>
<rect x="350.67" y="569.1" width="4.103" height="25.2" fill="#1e961e"/>
<rect x="354.72" y="565.2" width="4.103" height="29.1" fill="#ff0d00"/>
<rect x="358.77" y="554.1" width="4.103" height="40.2" fill="#ff0d00"/>
<rect x="362.83" y="558.0" width="4.103" height="36.3" fill="#ff0d00"/>
<rect x="366.88" y="537.0" width="4.103" height="57.3" fill="#1e961e"/>
<rect x="370.93" y="559.1" width="4.103" height="35.2" fill="#1e961e"/>
<rect x="374.99" y="549.1" width="4.103" height="45.2" fill="#1e961e"/>
<rect x="379.04" y="552.3" width="4.103" height="42.0" fill="#ff0d00"/>
<rect x="383.10" y="558.0" width="4.103" height="36.3" fill="#ff0d00"/>
<rect x="387.15" y="547.0" width="4.103" height="47.3" fill="#1e961e"/>
<rect x="391.20" y="551.0" width="4.103" height="43.3" fill="#1e961e"/>
<rect x="395.26" y="566.0" width="4.103" height="28.3" fill="#1e961e"/>
<rect x="399.31" y="563.1" width="4.103" height="31.2" fill="#1e961e"/>
<rect x="403.36" y="565.2" width="4.103" height="29.1" fill="#ff0d00"/>
<rect x="407.42" y="564.1" width="4.103" height="30.2" fill="#1e961e"/>
<rect x="411.47" y="561.3" width="4.103" height="33.0" fill="#ff0d00"/>
<rect x="415.52" y="555.1" width="4.103" height="39.2" fill="#ff0d00"/>
<rect x="419.58" y="563.1" width="4.103" height="31.2" fill="#1e961e"/>
<rect x="423.63" y="537.0" width="4.103" height="57.3" fill="#1e961e"/>
<rect x="427.68" y="567.0" width="4.103" height="27.3" fill="#1e961e"/>
<rect x="431.74" y="563.1" width="4.103" height="31.2" fill="#1e961e"/>
<rect x="435.79" y="562.0" width="4.103" height="32.3" fill="#ff0d00"/>
<rect x="439.84" y="558.0" width="4.103" height="36.3" fill="#ff0d00"/>
<rect x="443.90" y="569.8" width="4.103" height="24.5" fill="#ff0d00"/>
<rect x="447.95" y="563.1" width="4.103" height="31.2" fill="#ff0d00"/>
<rect x="452.00" y="550.1" width="4.103" height="44.2" fill="#1e961e"/>
<rect x="456.06" y="552.3" width="4.103" height="42.0" fill="#ff0d00"/>
<rect x="460.11" y="540.3" width="4.103" height="54.0" fill="#1e961e"/>
<rect x="464.17" y="542.0" width="4.103" height="52.3" fill="#1e961e"/>
<rect x="468.22" y="537.0" width="4.103" height="57.3" fill="#ff0d00"/>
<rect x="472.27" y="548.1" width="4.103" height="46.2" fill="#1e961e"/>
<rect x="476.33" y="549.1" width="4.103" height="45.2" fill="#ff0d00"/>
<rect x="480.38" y="549.1" width="4.103" height="45.2" fill="#1e961e"/>
<rect x="484.43" y="541.3" width="4.103" height="53.0" fill="#1e961e"/>
<rect x="488.49" y="553.0" width="4.103" height="41.3" fill="#1e961e"/>
<rect x="492.54" y="556.0" width="4.103" height="38.3" fill="#1e961e"/>
<rect x="496.59" y="542.0" width="4.103" height="52.3" fill="#1e961e"/>
<rect x="500.65" y="566.0" width="4.103" height="28.3" fill="#1e961e"/>
<rect x="504.70" y="564.1" width="4.103" height="30.2" fill="#1e961e"/>
<rect x="508.75" y="560.1" width="4.103" height="34.2" fill="#ff0d00"/>
<rect x="512.81" y="551.3" width="4.103" height="43.0" fill="#1e961e"/>
<rect x="516.86" y="564.1" width="4.103" height="30.2" fill="#ff0d00"/>
<rect x="520.91" y="564.1" width="4.103" height="30.2" fill="#1e961e"/>
<rect x="524.97" y="550.1" width="4.103" height="44.2" fill="#1e961e"/>
<rect x="529.02" y="570.8" width="4.103" height="23.5" fill="#ff0d00"/>
<rect x="533.07" y="501.1" width="4.103" height="93.2" fill="#ff0d00"/>
<rect x="537.13" y="542.0" width="4.103" height="52.3" fill="#1e961e"/>
<rect x="541.18" y="552.3" width="4.103" height="42.0" fill="#ff0d00"/>
<rect x="545.24" y="535.2" width="4.103" height="59.1" fill="#ff0d00"/>
<rect x="549.29" y="548.1" width="4.103" height="46.2" fill="#ff0d00"/>
<rect x="553.34" y="556.0" width="4.103" height="38.3" fill="#ff0d00"/>
<rect x="557.40" y="559.1" width="4.103" height="35.2" fill="#1e961e"/>
<rect x="561.45" y="567.0" width="4.103" height="27.3" fill="#1e961e"/>
<rect x="565.50" y="561.0" width="4.103" height="33.3" fill="#ff0d00"/>
<rect x="569.56" y="568.1" width="4.103" height="26.2" fill="#1e961e"/>
<rect x="573.61" y="551.0" width="4.103" height="43.3" fill="#ff0d00"/>
<rect x="577.66" y="537.0" width="4.103" height="57.3" fill="#1e961e"/>
<rect x="581.72" y="557.0" width="4.103" height="37.3" fill="#1e961e"/>
<rect x="585.77" y="558.8" width="4.103" height="35.5" fill="#ff0d00"/>
<rect x="589.82" y="558.8" width="4.103" height="35.5" fill="#ff0d00"/>
<rect x="593.88" y="552.3" width="4.103" height="42.0" fill="#ff0d00"/>
<rect x="597.93" y="560.1" width="4.103" height="34.2" fill="#1e961e"/>
<rect x="601.98" y="442.9" width="4.103" height="151.4" fill="#ff0d00"/>
<rect x="606.04" y="563.1" width="4.103" height="31.2" fill="#ff0d00"/>
<rect x="610.09" y="562.0" width="4.103" height="32.3" fill="#1e961e"/>
<rect x="614.14" y="545.9" width="4.103" height="48.4" fill="#1e961e"/>
<rect x="618.20" y="563.1" width="4.103" height="31.2" fill="#ff0d00"/>
<rect x="622.25" y="562.7" width="4.103" height="31.6" fill="#1e961e"/>
<rect x="626.31" y="560.1" width="4.103" height="34.2" fill="#1e961e"/>
<rect x="630.36" y="557.0" width="4.103" height="37.3" fill="#1e961e"/>
<rect x="634.41" y="551.0" width="4.103" height="43.3" fill="#ff0d00"/>
<rect x="638.47" y="541.3" width="4.103" height="53.0" fill="#ff0d00"/>
<rect x="642.52" y="561.3" width="4.103" height="33.0" fill="#1e961e"/>
<rect x="646.57" y="559.1" width="4.103" height="35.2" fill="#1e961e"/>
<rect x="650.63" y="560.1" width="4.103" height="34.2" fill="#1e961e"/>
<rect x="654.68" y="556.3" width="4.103" height="38.0" fill="#1e961e"/>
<rect x="658.73" y="551.0" width="4.103" height="43.3" fill="#ff0d00"/>
<rect x="662.79" y="545.2" width="4.103" height="49.1" fill="#1e961e"/>
<rect x="666.84" y="561.3" width="4.103" height="33.0" fill="#ff0d00"/>
<rect x="670.89" y="569.1" width="4.103" height="25.2" fill="#ff0d00"/>
<rect x="674.95" y="562.0" width="4.103" height="32.3" fill="#1e961e"/>
<rect x="679.00" y="555.1" width="4.103" height="39.2" fill="#1e961e"/>
<rect x="683.05" y="550.1" width="4.103" height="44.2" fill="#ff0d00"/>
<rect x="687.11" y="554.1" width="4.103" height="40.2" fill="#1e961e"/>
<rect x="691.16" y="554.1" width="4.103" height="40.2" fill="#ff0d00"/>
<rect x="695.21" y="560.1" width="4.103" height="34.2" fill="#1e961e"/>
<rect x="699.27" y="562.0" width="4.103" height="32.3" fill="#ff0d00"/>
<rect x="703.32" y="564.1" width="4.103" height="30.2" fill="#ff0d00"/>
<rect x="707.38" y="493.0" width="4.103" height="101.3" fill="#ff0d00"/>
<rect x="711.43" y="493.0" width="4.103" height="101.3" fill="#1e961e"/>
<rect x="715.48" y="541.3" width="4.103" height="53.0" fill="#ff0d00"/>
<rect x="719.54" y="554.1" width="4.103" height="40.2" fill="#ff0d00"/>
<rect x="723.59" y="520.2" width="4.103" height="74.1" fill="#1e961e"/>
<rect x="727.64" y="525.2" width="4.103" height="69.1" fill="#ff0d00"/>
<rect x="731.70" y="530.2" width="4.103" height="64.1" fill="#1e961e"/>
<rect x="735.75" y="540.3" width="4.103" height="54.0" fill="#1e961e"/>
<rect x="739.80" y="552.3" width="4.103" height="42.0" fill="#ff0d00"/>
<rect x="743.86" y="556.0" width="4.103" height="38.3" fill="#ff0d00"/>
<rect x="747.91" y="563.1" width="4.103" height="31.2" fill="#ff0d00"/>
<rect x="751.96" y="566.0" width="4.103" height="28.3" fill="#ff0d00"/>
<rect x="756.02" y="573.1" width="4.103" height="21.2" fill="#1e961e"/>
<rect x="760.07" y="551.0" width="4.103" height="43.3" fill="#1e961e"/>
<rect x="764.12" y="550.1" width="4.103" height="44.2" fill="#ff0d00"/>
<rect x="768.18" y="564.1" width="4.103" height="30.2" fill="#1e961e"/>
<rect x="772.23" y="542.0" width="4.103" height="52.3" fill="#ff0d00"/>
<rect x="776.28" y="543.2" width="4.103" height="51.1" fill="#ff0d00"/>
<rect x="780.34" y="547.0" width="4.103" height="47.3" fill="#1e961e"/>
<rect x="784.39" y="535.2" width="4.103" height="59.1" fill="#1e961e"/>
<rect x="788.45" y="475.9" width="4.103" height="118.4" fill="#ff0d00"/>
<rect x="792.50" y="563.1" width="4.103" height="31.2" fill="#ff0d00"/>
<rect x="796.55" y="556.3" width="4.103" height="38.0" fill="#ff0d00"/>
<rect x="800.61" y="576.9" width="4.103" height="17.4" fill="#1e961e"/>
<rect x="804.66" y="560.1" width="4.103" height="34.2" fill="#ff0d00"/>
<rect x="808.71" y="555.1" width="4.103" height="39.2" fill="#ff0d00"/>
<rect x="812.77" y="561.3" width="4.103" height="33.0" fill="#ff0d00"/>
<rect x="816.82" y="519.2" width="4.103" height="75.1" fill="#ff0d00"/>
<rect x="820.87" y="553.0" width="4.103" height="41.3" fill="#1e961e"/>
<rect x="824.93" y="539.2" width="4.103" height="55.1" fill="#ff0d00"/>
<rect x="828.98" y="552.3" width="4.103" height="42.0" fill="#ff0d00"/>
<rect x="833.03" y="551.3" width="4.103" height="43.0" fill="#ff0d00"/>
<rect x="837.09" y="552.3" width="4.103" height="42.0" fill="#1e961e"/>
<rect x="841.14" y="549.1" width="4.103" height="45.2" fill="#1e961e"/>
<rect x="845.19" y="548.1" width="4.103" height="46.2" fill="#1e961e"/>
<rect x="849.25" y="524.2" width="4.103" height="70.1" fill="#ff0d00"/>
<rect x="853.30" y="545.2" width="4.103" height="49.1" fill="#1e961e"/>
<rect x="857.35" y="550.1" width="4.103" height="44.2" fill="#ff0d00"/>
<rect x="861.41" y="521.1" width="4.103" height="73.2" fill="#ff0d00"/>
<rect x="865.46" y="565.2" width="4.103" height="29.1" fill="#1e961e"/>
<rect x="869.52" y="578.1" width="4.103" height="16.2" fill="#ff0d00"/>
<rect x="873.57" y="586.2" width="4.103" height="8.1" fill="#1e961e"/>
<rect x="877.62" y="576.2" width="4.103" height="18.1" fill="#1e961e"/>
<rect x="881.68" y="564.1" width="4.103" height="30.2" fill="#1e961e"/>
<rect x="885.73" y="570.8" width="4.103" height="23.5" fill="#ff0d00"/>
<rect x="889.78" y="566.0" width="4.103" height="28.3" fill="#ff0d00"/>
<rect x="893.84" y="565.2" width="4.103" height="29.1" fill="#1e961e"/>
<rect x="897.89" y="558.0" width="4.103" height="36.3" fill="#ff0d00"/>
<rect x="901.94" y="551.0" width="4.103" height="43.3" fill="#1e961e"/>
<rect x="906.00" y="568.1" width="4.103" height="26.2" fill="#ff0d00"/>
<rect x="910.05" y="551.0" width="4.103" height="43.3" fill="#1e961e"/>
<rect x="914.10" y="565.2" width="4.103" height="29.1" fill="#ff0d00"/>
<rect x="918.16" y="549.1" width="4.103" height="45.2" fill="#1e961e"/>
<rect x="922.21" y="555.1" width="4.103" height="39.2" fill="#1e961e"/>
<rect x="926.26" y="562.0" width="4.103" height="32.3" fill="#1e961e"/>
<rect x="930.32" y="560.1" width="4.103" height="34.2" fill="#1e961e"/>
<rect x="934.37" y="522.1" width="4.103" height="72.2" fill="#1e961e"/>
<rect x="938.42" y="554.1" width="4.103" height="40.2" fill="#ff0d00"/>
<rect x="942.48" y="557.0" width="4.103" height="37.3" fill="#ff0d00"/>
<rect x="946.53" y="561.0" width="4.103" height="33.3" fill="#1e961e"/>
<rect x="950.59" y="548.1" width="4.103" height="46.2" fill="#ff0d00"/>
<rect x="954.64" y="557.0" width="4.103" height="37.3" fill="#ff0d00"/>
<rect x="958.69" y="562.0" width="4.103" height="32.3" fill="#ff0d00"/>
<rect x="962.75" y="545.2" width="4.103" height="49.1" fill="#ff0d00"/>
<rect x="966.80" y="551.0" width="4.103" height="43.3" fill="#1e961e"/>
<rect x="970.85" y="547.0" width="4.103" height="47.3" fill="#1e961e"/>
<rect x="974.91" y="557.0" width="4.103" height="37.3" fill="#ff0d00"/>
<rect x="978.96" y="543.2" width="4.103" height="51.1" fill="#ff0d00"/>
<rect x="983.01" y="536.3" width="4.103" height="58.0" fill="#ff0d00"/>
<rect x="987.07" y="552.0" width="4.103" height="42.3" fill="#ff0d00"/>
<rect x="991.12" y="550.1" width="4.103" height="44.2" fill="#ff0d00"/>
<rect x="995.17" y="550.1" width="4.103" height="44.2" fill="#ff0d00"/>
<rect x="999.23" y="545.9" width="4.103" height="48.4" fill="#1e961e"/>
<rect x="1003.28" y="548.1" width="4.103" height="46.2" fill="#ff0d00"/>
<rect x="1007.33" y="542.0" width="4.103" height="52.3" fill="#1e961e"/>
<rect x="1011.39" y="551.0" width="4.103" height="43.3" fill="#1e961e"/>
<rect x="1015.44" y="558.0" width="4.103" height="36.3" fill="#ff0d00"/>
<rect x="1019.49" y="561.0" width="4.103" height="33.3" fill="#ff0d00"/>
<rect x="1023.55" y="555.1" width="4.103" height="39.2" fill="#ff0d00"/>
<rect x="1027.60" y="567.0" width="4.103" height="27.3" fill="#ff0d00"/>
</g>
<line x1="12.5" x2="1054.8" y1="594.3" y2="594.3" stroke="#9c9c9c" stroke-width="1"/>
<g stroke="#ffffff" stroke-width="1.1">
<line x1="1055.3" x2="1059.8" y1="395.30" y2="395.30"/>
<line x1="1055.3" x2="1059.8" y1="320.28" y2="320.28"/>
<line x1="1055.3" x2="1059.8" y1="245.26" y2="245.26"/>
<line x1="1055.3" x2="1059.8" y1="170.24" y2="170.24"/>
<line x1="1055.3" x2="1059.8" y1="95.22" y2="95.22"/>
<line x1="1055.3" x2="1059.8" y1="20.20" y2="20.20"/>
<line x1="1055.3" x2="1059.8" y1="552.4" y2="552.4"/>
<line x1="1055.3" x2="1059.8" y1="506.5" y2="506.5"/>
<line x1="1055.3" x2="1059.8" y1="461.4" y2="461.4"/>
<line x1="40.57" x2="40.57" y1="594.8" y2="598.9"/>
<line x1="125.70" x2="125.70" y1="594.8" y2="598.9"/>
<line x1="210.82" x2="210.82" y1="594.8" y2="598.9"/>
<line x1="295.94" x2="295.94" y1="594.8" y2="598.9"/>
<line x1="377.01" x2="377.01" y1="594.8" y2="598.9"/>
<line x1="466.19" x2="466.19" y1="594.8" y2="598.9"/>
<line x1="551.32" x2="551.32" y1="594.8" y2="598.9"/>
<line x1="636.44" x2="636.44" y1="594.8" y2="598.9"/>
<line x1="729.67" x2="729.67" y1="594.8" y2="598.9"/>
<line x1="806.69" x2="806.69" y1="594.8" y2="598.9"/>
<line x1="895.86" x2="895.86" y1="594.8" y2="598.9"/>
<line x1="976.93" x2="976.93" y1="594.8" y2="598.9"/>
</g>
<g fill="#ffffff" font-size="13.2" letter-spacing="0.85">
<text filter="url(#f0)" x="1063.8" y="400.4">32.0</text>
<text filter="url(#f0)" x="1063.8" y="325.4">34.0</text>
<text filter="url(#f0)" x="1063.8" y="250.4">36.0</text>
<text filter="url(#f0)" x="1063.8" y="175.3">38.0</text>
<text filter="url(#f0)" x="1063.8" y="100.3">40.0</text>
<text filter="url(#f0)" x="1063.8" y="25.3">42.0</text>
<text filter="url(#f0)" x="1063.8" y="557.5">2</text>
<text filter="url(#f0)" x="1063.8" y="511.6">4</text>
<text filter="url(#f0)" x="1063.8" y="466.5">6</text>
</g>
<g fill="#ffffff" font-size="13.4" letter-spacing="1.05">
<text filter="url(#f0)" transform="translate(65.2,612.7) rotate(-45)" text-anchor="end">Mar 2025</text>
<text filter="url(#f0)" transform="translate(235.4,612.7) rotate(-45)" text-anchor="end">May 2025</text>
<text filter="url(#f0)" transform="translate(401.6,612.7) rotate(-45)" text-anchor="end">Jul 2025</text>
<text filter="url(#f0)" transform="translate(575.9,612.7) rotate(-45)" text-anchor="end">Sep 2025</text>
<text filter="url(#f0)" transform="translate(754.3,612.7) rotate(-45)" text-anchor="end">Nov 2025</text>
<text filter="url(#f0)" transform="translate(920.5,612.7) rotate(-45)" text-anchor="end">Jan 2026</text>
</g>
<text filter="url(#f0)" transform="translate(1110.3,222.8) rotate(-90)" text-anchor="middle" font-size="13.2" letter-spacing="0.45" fill="#e6e6e6">Preis</text>
<text filter="url(#f0)" transform="translate(1087.6,514.2) rotate(-90)" text-anchor="middle" font-size="13.4" letter-spacing="1.15" fill="#e6e6e6">Volumen</text>
<text filter="url(#f0)" transform="translate(1107.5,507.6) rotate(-90)" text-anchor="middle" font-size="14" letter-spacing="0.7" fill="#e6e6e6">10<tspan font-size="9.3" dy="-5">6</tspan></text>
</svg>
</body></html>
